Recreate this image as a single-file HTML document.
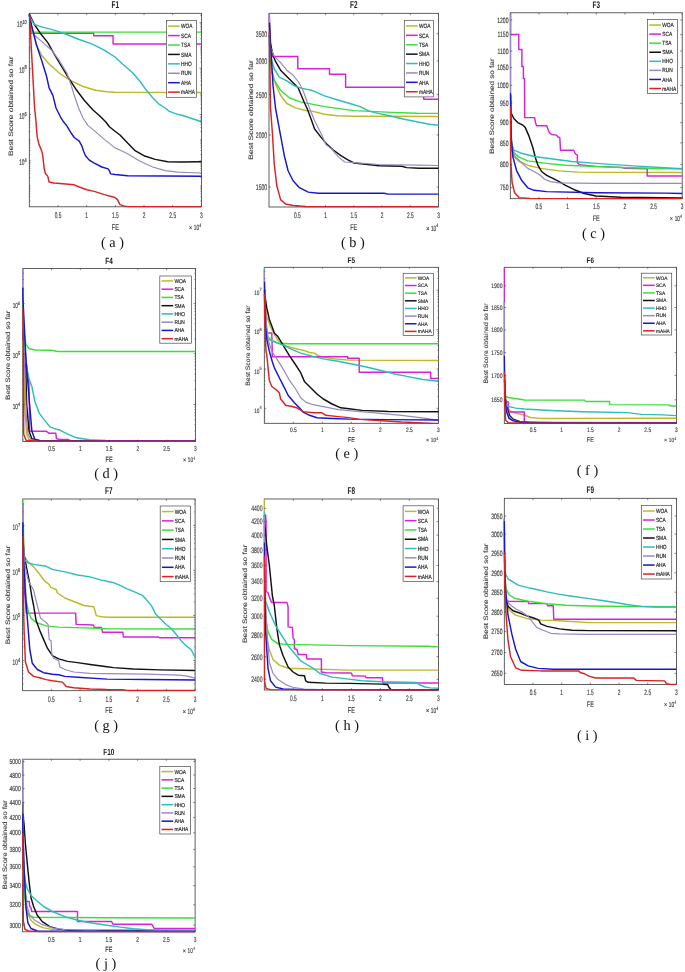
<!DOCTYPE html>
<html><head><meta charset="utf-8"><style>
html,body{margin:0;padding:0;background:#fff;}
svg{display:block;filter:blur(0.3px);}
</style></head><body>
<svg width="685" height="972" viewBox="0 0 685 972" text-rendering="geometricPrecision">
<rect width="685" height="972" fill="#fff"/>
<clipPath id="cF1"><rect x="28.40" y="12.40" width="173.90" height="195.30"/></clipPath>
<rect x="29.30" y="13.30" width="172.10" height="193.50" fill="none" stroke="#3a3a3a" stroke-width="0.8"/>
<g clip-path="url(#cF1)" fill="none" stroke-width="1.45" stroke-linejoin="round" stroke-linecap="butt">
<polyline points="29.3,14.0 31.0,25.0 34.0,35.1 36.5,45.1 41.6,55.2 49.1,64.0 60.4,74.0 70.4,80.3 83.0,86.5 95.5,90.3 106.8,91.8 115.0,92.3 201.4,92.4" stroke="#BDB82C"/>
<polyline points="29.3,14.0 30.3,25.0 30.9,33.2 93.7,33.2 93.7,35.7 113.1,35.7 113.1,43.9 201.4,43.9" stroke="#D822D8"/>
<polyline points="29.3,14.0 30.5,25.0 31.5,32.1 201.4,32.1" stroke="#38E038"/>
<polyline points="29.3,14.0 34.0,23.8 40.3,33.2 47.8,42.6 54.1,53.9 61.6,66.5 69.2,79.0 76.7,90.3 84.2,100.3 93.0,110.0 99.3,115.5 105.6,121.8 109.4,126.8 115.0,131.2 120.0,135.0 127.6,143.1 135.1,150.7 143.9,155.7 155.2,159.4 167.7,161.7 180.3,162.0 201.4,161.8" stroke="#111111"/>
<polyline points="29.3,16.0 34.0,24.4 41.6,26.9 54.1,30.1 66.7,34.5 79.2,39.5 91.8,43.9 104.3,50.1 115.0,57.0 122.5,64.0 132.6,72.7 140.1,81.5 146.4,90.3 152.7,97.8 158.9,104.1 165.2,108.0 169.0,111.1 175.3,113.6 182.8,115.5 190.3,118.0 201.4,121.8" stroke="#2DBDBD"/>
<polyline points="29.3,14.0 32.8,33.8 41.6,41.4 51.6,50.2 59.1,60.2 66.7,72.7 70.4,82.8 74.2,95.3 78.6,108.0 83.0,118.0 88.0,125.6 94.3,130.6 104.3,139.4 115.0,147.9 121.3,150.7 127.6,153.8 140.1,161.3 152.7,167.0 165.2,170.7 177.8,172.2 201.4,173.0" stroke="#9A88C4" stroke-width="1.2"/>
<polyline points="29.3,14.0 29.6,17.5 32.8,30.1 36.5,45.1 41.6,60.2 46.6,76.5 49.1,87.8 52.9,95.3 56.0,108.0 60.4,116.8 63.5,121.8 66.7,125.6 70.4,131.8 74.2,137.5 79.2,141.2 81.7,145.6 83.6,151.3 85.5,155.7 89.3,160.1 94.3,163.2 101.8,167.0 108.1,168.9 109.4,170.7 110.6,173.9 115.0,174.5 127.6,175.8 201.4,176.2" stroke="#1616D0"/>
<polyline points="29.5,15.0 34.6,108.0 35.9,120.5 37.2,136.9 39.0,144.4 41.6,150.7 42.8,155.7 44.1,168.2 45.3,173.2 47.8,176.4 49.1,182.0 54.1,183.0 62.9,183.7 74.2,184.8 79.2,187.0 86.8,189.8 94.3,191.4 104.3,194.6 115.0,197.5 117.5,199.6 120.0,204.6 123.8,205.9 128.0,206.6 201.4,206.7" stroke="#DC2222"/>
</g>
<line x1="57.98" y1="206.80" x2="57.98" y2="204.90" stroke="#3a3a3a" stroke-width="0.6"/>
<line x1="57.98" y1="13.30" x2="57.98" y2="15.20" stroke="#3a3a3a" stroke-width="0.6"/>
<text transform="translate(57.98,217.80) scale(0.595,1.000)" font-family="Liberation Sans" font-size="8.10" text-anchor="middle" fill="#3c3c3c" font-weight="normal" stroke="#3c3c3c" stroke-width="0.18">0.5</text>
<line x1="86.67" y1="206.80" x2="86.67" y2="204.90" stroke="#3a3a3a" stroke-width="0.6"/>
<line x1="86.67" y1="13.30" x2="86.67" y2="15.20" stroke="#3a3a3a" stroke-width="0.6"/>
<text transform="translate(86.67,217.80) scale(0.595,1.000)" font-family="Liberation Sans" font-size="8.10" text-anchor="middle" fill="#3c3c3c" font-weight="normal" stroke="#3c3c3c" stroke-width="0.18">1</text>
<line x1="115.35" y1="206.80" x2="115.35" y2="204.90" stroke="#3a3a3a" stroke-width="0.6"/>
<line x1="115.35" y1="13.30" x2="115.35" y2="15.20" stroke="#3a3a3a" stroke-width="0.6"/>
<text transform="translate(115.35,217.80) scale(0.595,1.000)" font-family="Liberation Sans" font-size="8.10" text-anchor="middle" fill="#3c3c3c" font-weight="normal" stroke="#3c3c3c" stroke-width="0.18">1.5</text>
<line x1="144.03" y1="206.80" x2="144.03" y2="204.90" stroke="#3a3a3a" stroke-width="0.6"/>
<line x1="144.03" y1="13.30" x2="144.03" y2="15.20" stroke="#3a3a3a" stroke-width="0.6"/>
<text transform="translate(144.03,217.80) scale(0.595,1.000)" font-family="Liberation Sans" font-size="8.10" text-anchor="middle" fill="#3c3c3c" font-weight="normal" stroke="#3c3c3c" stroke-width="0.18">2</text>
<line x1="172.72" y1="206.80" x2="172.72" y2="204.90" stroke="#3a3a3a" stroke-width="0.6"/>
<line x1="172.72" y1="13.30" x2="172.72" y2="15.20" stroke="#3a3a3a" stroke-width="0.6"/>
<text transform="translate(172.72,217.80) scale(0.595,1.000)" font-family="Liberation Sans" font-size="8.10" text-anchor="middle" fill="#3c3c3c" font-weight="normal" stroke="#3c3c3c" stroke-width="0.18">2.5</text>
<line x1="201.40" y1="206.80" x2="201.40" y2="204.90" stroke="#3a3a3a" stroke-width="0.6"/>
<line x1="201.40" y1="13.30" x2="201.40" y2="15.20" stroke="#3a3a3a" stroke-width="0.6"/>
<text transform="translate(201.40,217.80) scale(0.595,1.000)" font-family="Liberation Sans" font-size="8.10" text-anchor="middle" fill="#3c3c3c" font-weight="normal" stroke="#3c3c3c" stroke-width="0.18">3</text>
<line x1="29.30" y1="22.60" x2="31.20" y2="22.60" stroke="#3a3a3a" stroke-width="0.6"/>
<line x1="201.40" y1="22.60" x2="199.50" y2="22.60" stroke="#3a3a3a" stroke-width="0.6"/>
<text transform="translate(22.34,27.10) scale(0.595,1.000)" font-family="Liberation Sans" font-size="8.10" text-anchor="end" fill="#3c3c3c" font-weight="normal" stroke="#3c3c3c" stroke-width="0.18">10</text>
<text transform="translate(22.44,23.70) scale(0.700,1.000)" font-family="Liberation Sans" font-size="5.60" text-anchor="start" fill="#3c3c3c" font-weight="normal" stroke="#3c3c3c" stroke-width="0.18">10</text>
<line x1="29.30" y1="68.30" x2="31.20" y2="68.30" stroke="#3a3a3a" stroke-width="0.6"/>
<line x1="201.40" y1="68.30" x2="199.50" y2="68.30" stroke="#3a3a3a" stroke-width="0.6"/>
<text transform="translate(24.52,72.80) scale(0.595,1.000)" font-family="Liberation Sans" font-size="8.10" text-anchor="end" fill="#3c3c3c" font-weight="normal" stroke="#3c3c3c" stroke-width="0.18">10</text>
<text transform="translate(24.62,69.40) scale(0.700,1.000)" font-family="Liberation Sans" font-size="5.60" text-anchor="start" fill="#3c3c3c" font-weight="normal" stroke="#3c3c3c" stroke-width="0.18">8</text>
<line x1="29.30" y1="114.50" x2="31.20" y2="114.50" stroke="#3a3a3a" stroke-width="0.6"/>
<line x1="201.40" y1="114.50" x2="199.50" y2="114.50" stroke="#3a3a3a" stroke-width="0.6"/>
<text transform="translate(24.52,119.00) scale(0.595,1.000)" font-family="Liberation Sans" font-size="8.10" text-anchor="end" fill="#3c3c3c" font-weight="normal" stroke="#3c3c3c" stroke-width="0.18">10</text>
<text transform="translate(24.62,115.60) scale(0.700,1.000)" font-family="Liberation Sans" font-size="5.60" text-anchor="start" fill="#3c3c3c" font-weight="normal" stroke="#3c3c3c" stroke-width="0.18">6</text>
<line x1="29.30" y1="160.90" x2="31.20" y2="160.90" stroke="#3a3a3a" stroke-width="0.6"/>
<line x1="201.40" y1="160.90" x2="199.50" y2="160.90" stroke="#3a3a3a" stroke-width="0.6"/>
<text transform="translate(24.52,165.40) scale(0.595,1.000)" font-family="Liberation Sans" font-size="8.10" text-anchor="end" fill="#3c3c3c" font-weight="normal" stroke="#3c3c3c" stroke-width="0.18">10</text>
<text transform="translate(24.62,162.00) scale(0.700,1.000)" font-family="Liberation Sans" font-size="5.60" text-anchor="start" fill="#3c3c3c" font-weight="normal" stroke="#3c3c3c" stroke-width="0.18">4</text>
<line x1="29.30" y1="200.83" x2="30.40" y2="200.83" stroke="#3a3a3a" stroke-width="0.5"/>
<line x1="201.40" y1="200.83" x2="200.30" y2="200.83" stroke="#3a3a3a" stroke-width="0.5"/>
<line x1="29.30" y1="196.75" x2="30.40" y2="196.75" stroke="#3a3a3a" stroke-width="0.5"/>
<line x1="201.40" y1="196.75" x2="200.30" y2="196.75" stroke="#3a3a3a" stroke-width="0.5"/>
<line x1="29.30" y1="193.86" x2="30.40" y2="193.86" stroke="#3a3a3a" stroke-width="0.5"/>
<line x1="201.40" y1="193.86" x2="200.30" y2="193.86" stroke="#3a3a3a" stroke-width="0.5"/>
<line x1="29.30" y1="191.62" x2="30.40" y2="191.62" stroke="#3a3a3a" stroke-width="0.5"/>
<line x1="201.40" y1="191.62" x2="200.30" y2="191.62" stroke="#3a3a3a" stroke-width="0.5"/>
<line x1="29.30" y1="189.79" x2="30.40" y2="189.79" stroke="#3a3a3a" stroke-width="0.5"/>
<line x1="201.40" y1="189.79" x2="200.30" y2="189.79" stroke="#3a3a3a" stroke-width="0.5"/>
<line x1="29.30" y1="188.24" x2="30.40" y2="188.24" stroke="#3a3a3a" stroke-width="0.5"/>
<line x1="201.40" y1="188.24" x2="200.30" y2="188.24" stroke="#3a3a3a" stroke-width="0.5"/>
<line x1="29.30" y1="186.89" x2="30.40" y2="186.89" stroke="#3a3a3a" stroke-width="0.5"/>
<line x1="201.40" y1="186.89" x2="200.30" y2="186.89" stroke="#3a3a3a" stroke-width="0.5"/>
<line x1="29.30" y1="185.71" x2="30.40" y2="185.71" stroke="#3a3a3a" stroke-width="0.5"/>
<line x1="201.40" y1="185.71" x2="200.30" y2="185.71" stroke="#3a3a3a" stroke-width="0.5"/>
<line x1="29.30" y1="177.68" x2="30.40" y2="177.68" stroke="#3a3a3a" stroke-width="0.5"/>
<line x1="201.40" y1="177.68" x2="200.30" y2="177.68" stroke="#3a3a3a" stroke-width="0.5"/>
<line x1="29.30" y1="173.60" x2="30.40" y2="173.60" stroke="#3a3a3a" stroke-width="0.5"/>
<line x1="201.40" y1="173.60" x2="200.30" y2="173.60" stroke="#3a3a3a" stroke-width="0.5"/>
<line x1="29.30" y1="170.71" x2="30.40" y2="170.71" stroke="#3a3a3a" stroke-width="0.5"/>
<line x1="201.40" y1="170.71" x2="200.30" y2="170.71" stroke="#3a3a3a" stroke-width="0.5"/>
<line x1="29.30" y1="168.47" x2="30.40" y2="168.47" stroke="#3a3a3a" stroke-width="0.5"/>
<line x1="201.40" y1="168.47" x2="200.30" y2="168.47" stroke="#3a3a3a" stroke-width="0.5"/>
<line x1="29.30" y1="166.64" x2="30.40" y2="166.64" stroke="#3a3a3a" stroke-width="0.5"/>
<line x1="201.40" y1="166.64" x2="200.30" y2="166.64" stroke="#3a3a3a" stroke-width="0.5"/>
<line x1="29.30" y1="165.09" x2="30.40" y2="165.09" stroke="#3a3a3a" stroke-width="0.5"/>
<line x1="201.40" y1="165.09" x2="200.30" y2="165.09" stroke="#3a3a3a" stroke-width="0.5"/>
<line x1="29.30" y1="163.74" x2="30.40" y2="163.74" stroke="#3a3a3a" stroke-width="0.5"/>
<line x1="201.40" y1="163.74" x2="200.30" y2="163.74" stroke="#3a3a3a" stroke-width="0.5"/>
<line x1="29.30" y1="162.56" x2="30.40" y2="162.56" stroke="#3a3a3a" stroke-width="0.5"/>
<line x1="201.40" y1="162.56" x2="200.30" y2="162.56" stroke="#3a3a3a" stroke-width="0.5"/>
<line x1="29.30" y1="154.53" x2="30.40" y2="154.53" stroke="#3a3a3a" stroke-width="0.5"/>
<line x1="201.40" y1="154.53" x2="200.30" y2="154.53" stroke="#3a3a3a" stroke-width="0.5"/>
<line x1="29.30" y1="150.45" x2="30.40" y2="150.45" stroke="#3a3a3a" stroke-width="0.5"/>
<line x1="201.40" y1="150.45" x2="200.30" y2="150.45" stroke="#3a3a3a" stroke-width="0.5"/>
<line x1="29.30" y1="147.56" x2="30.40" y2="147.56" stroke="#3a3a3a" stroke-width="0.5"/>
<line x1="201.40" y1="147.56" x2="200.30" y2="147.56" stroke="#3a3a3a" stroke-width="0.5"/>
<line x1="29.30" y1="145.32" x2="30.40" y2="145.32" stroke="#3a3a3a" stroke-width="0.5"/>
<line x1="201.40" y1="145.32" x2="200.30" y2="145.32" stroke="#3a3a3a" stroke-width="0.5"/>
<line x1="29.30" y1="143.49" x2="30.40" y2="143.49" stroke="#3a3a3a" stroke-width="0.5"/>
<line x1="201.40" y1="143.49" x2="200.30" y2="143.49" stroke="#3a3a3a" stroke-width="0.5"/>
<line x1="29.30" y1="141.94" x2="30.40" y2="141.94" stroke="#3a3a3a" stroke-width="0.5"/>
<line x1="201.40" y1="141.94" x2="200.30" y2="141.94" stroke="#3a3a3a" stroke-width="0.5"/>
<line x1="29.30" y1="140.59" x2="30.40" y2="140.59" stroke="#3a3a3a" stroke-width="0.5"/>
<line x1="201.40" y1="140.59" x2="200.30" y2="140.59" stroke="#3a3a3a" stroke-width="0.5"/>
<line x1="29.30" y1="139.41" x2="30.40" y2="139.41" stroke="#3a3a3a" stroke-width="0.5"/>
<line x1="201.40" y1="139.41" x2="200.30" y2="139.41" stroke="#3a3a3a" stroke-width="0.5"/>
<line x1="29.30" y1="131.38" x2="30.40" y2="131.38" stroke="#3a3a3a" stroke-width="0.5"/>
<line x1="201.40" y1="131.38" x2="200.30" y2="131.38" stroke="#3a3a3a" stroke-width="0.5"/>
<line x1="29.30" y1="127.30" x2="30.40" y2="127.30" stroke="#3a3a3a" stroke-width="0.5"/>
<line x1="201.40" y1="127.30" x2="200.30" y2="127.30" stroke="#3a3a3a" stroke-width="0.5"/>
<line x1="29.30" y1="124.41" x2="30.40" y2="124.41" stroke="#3a3a3a" stroke-width="0.5"/>
<line x1="201.40" y1="124.41" x2="200.30" y2="124.41" stroke="#3a3a3a" stroke-width="0.5"/>
<line x1="29.30" y1="122.17" x2="30.40" y2="122.17" stroke="#3a3a3a" stroke-width="0.5"/>
<line x1="201.40" y1="122.17" x2="200.30" y2="122.17" stroke="#3a3a3a" stroke-width="0.5"/>
<line x1="29.30" y1="120.34" x2="30.40" y2="120.34" stroke="#3a3a3a" stroke-width="0.5"/>
<line x1="201.40" y1="120.34" x2="200.30" y2="120.34" stroke="#3a3a3a" stroke-width="0.5"/>
<line x1="29.30" y1="118.79" x2="30.40" y2="118.79" stroke="#3a3a3a" stroke-width="0.5"/>
<line x1="201.40" y1="118.79" x2="200.30" y2="118.79" stroke="#3a3a3a" stroke-width="0.5"/>
<line x1="29.30" y1="117.44" x2="30.40" y2="117.44" stroke="#3a3a3a" stroke-width="0.5"/>
<line x1="201.40" y1="117.44" x2="200.30" y2="117.44" stroke="#3a3a3a" stroke-width="0.5"/>
<line x1="29.30" y1="116.26" x2="30.40" y2="116.26" stroke="#3a3a3a" stroke-width="0.5"/>
<line x1="201.40" y1="116.26" x2="200.30" y2="116.26" stroke="#3a3a3a" stroke-width="0.5"/>
<line x1="29.30" y1="108.23" x2="30.40" y2="108.23" stroke="#3a3a3a" stroke-width="0.5"/>
<line x1="201.40" y1="108.23" x2="200.30" y2="108.23" stroke="#3a3a3a" stroke-width="0.5"/>
<line x1="29.30" y1="104.15" x2="30.40" y2="104.15" stroke="#3a3a3a" stroke-width="0.5"/>
<line x1="201.40" y1="104.15" x2="200.30" y2="104.15" stroke="#3a3a3a" stroke-width="0.5"/>
<line x1="29.30" y1="101.26" x2="30.40" y2="101.26" stroke="#3a3a3a" stroke-width="0.5"/>
<line x1="201.40" y1="101.26" x2="200.30" y2="101.26" stroke="#3a3a3a" stroke-width="0.5"/>
<line x1="29.30" y1="99.02" x2="30.40" y2="99.02" stroke="#3a3a3a" stroke-width="0.5"/>
<line x1="201.40" y1="99.02" x2="200.30" y2="99.02" stroke="#3a3a3a" stroke-width="0.5"/>
<line x1="29.30" y1="97.19" x2="30.40" y2="97.19" stroke="#3a3a3a" stroke-width="0.5"/>
<line x1="201.40" y1="97.19" x2="200.30" y2="97.19" stroke="#3a3a3a" stroke-width="0.5"/>
<line x1="29.30" y1="95.64" x2="30.40" y2="95.64" stroke="#3a3a3a" stroke-width="0.5"/>
<line x1="201.40" y1="95.64" x2="200.30" y2="95.64" stroke="#3a3a3a" stroke-width="0.5"/>
<line x1="29.30" y1="94.29" x2="30.40" y2="94.29" stroke="#3a3a3a" stroke-width="0.5"/>
<line x1="201.40" y1="94.29" x2="200.30" y2="94.29" stroke="#3a3a3a" stroke-width="0.5"/>
<line x1="29.30" y1="93.11" x2="30.40" y2="93.11" stroke="#3a3a3a" stroke-width="0.5"/>
<line x1="201.40" y1="93.11" x2="200.30" y2="93.11" stroke="#3a3a3a" stroke-width="0.5"/>
<line x1="29.30" y1="85.08" x2="30.40" y2="85.08" stroke="#3a3a3a" stroke-width="0.5"/>
<line x1="201.40" y1="85.08" x2="200.30" y2="85.08" stroke="#3a3a3a" stroke-width="0.5"/>
<line x1="29.30" y1="81.00" x2="30.40" y2="81.00" stroke="#3a3a3a" stroke-width="0.5"/>
<line x1="201.40" y1="81.00" x2="200.30" y2="81.00" stroke="#3a3a3a" stroke-width="0.5"/>
<line x1="29.30" y1="78.11" x2="30.40" y2="78.11" stroke="#3a3a3a" stroke-width="0.5"/>
<line x1="201.40" y1="78.11" x2="200.30" y2="78.11" stroke="#3a3a3a" stroke-width="0.5"/>
<line x1="29.30" y1="75.87" x2="30.40" y2="75.87" stroke="#3a3a3a" stroke-width="0.5"/>
<line x1="201.40" y1="75.87" x2="200.30" y2="75.87" stroke="#3a3a3a" stroke-width="0.5"/>
<line x1="29.30" y1="74.04" x2="30.40" y2="74.04" stroke="#3a3a3a" stroke-width="0.5"/>
<line x1="201.40" y1="74.04" x2="200.30" y2="74.04" stroke="#3a3a3a" stroke-width="0.5"/>
<line x1="29.30" y1="72.49" x2="30.40" y2="72.49" stroke="#3a3a3a" stroke-width="0.5"/>
<line x1="201.40" y1="72.49" x2="200.30" y2="72.49" stroke="#3a3a3a" stroke-width="0.5"/>
<line x1="29.30" y1="71.14" x2="30.40" y2="71.14" stroke="#3a3a3a" stroke-width="0.5"/>
<line x1="201.40" y1="71.14" x2="200.30" y2="71.14" stroke="#3a3a3a" stroke-width="0.5"/>
<line x1="29.30" y1="69.96" x2="30.40" y2="69.96" stroke="#3a3a3a" stroke-width="0.5"/>
<line x1="201.40" y1="69.96" x2="200.30" y2="69.96" stroke="#3a3a3a" stroke-width="0.5"/>
<line x1="29.30" y1="61.93" x2="30.40" y2="61.93" stroke="#3a3a3a" stroke-width="0.5"/>
<line x1="201.40" y1="61.93" x2="200.30" y2="61.93" stroke="#3a3a3a" stroke-width="0.5"/>
<line x1="29.30" y1="57.85" x2="30.40" y2="57.85" stroke="#3a3a3a" stroke-width="0.5"/>
<line x1="201.40" y1="57.85" x2="200.30" y2="57.85" stroke="#3a3a3a" stroke-width="0.5"/>
<line x1="29.30" y1="54.96" x2="30.40" y2="54.96" stroke="#3a3a3a" stroke-width="0.5"/>
<line x1="201.40" y1="54.96" x2="200.30" y2="54.96" stroke="#3a3a3a" stroke-width="0.5"/>
<line x1="29.30" y1="52.72" x2="30.40" y2="52.72" stroke="#3a3a3a" stroke-width="0.5"/>
<line x1="201.40" y1="52.72" x2="200.30" y2="52.72" stroke="#3a3a3a" stroke-width="0.5"/>
<line x1="29.30" y1="50.89" x2="30.40" y2="50.89" stroke="#3a3a3a" stroke-width="0.5"/>
<line x1="201.40" y1="50.89" x2="200.30" y2="50.89" stroke="#3a3a3a" stroke-width="0.5"/>
<line x1="29.30" y1="49.34" x2="30.40" y2="49.34" stroke="#3a3a3a" stroke-width="0.5"/>
<line x1="201.40" y1="49.34" x2="200.30" y2="49.34" stroke="#3a3a3a" stroke-width="0.5"/>
<line x1="29.30" y1="47.99" x2="30.40" y2="47.99" stroke="#3a3a3a" stroke-width="0.5"/>
<line x1="201.40" y1="47.99" x2="200.30" y2="47.99" stroke="#3a3a3a" stroke-width="0.5"/>
<line x1="29.30" y1="46.81" x2="30.40" y2="46.81" stroke="#3a3a3a" stroke-width="0.5"/>
<line x1="201.40" y1="46.81" x2="200.30" y2="46.81" stroke="#3a3a3a" stroke-width="0.5"/>
<line x1="29.30" y1="38.78" x2="30.40" y2="38.78" stroke="#3a3a3a" stroke-width="0.5"/>
<line x1="201.40" y1="38.78" x2="200.30" y2="38.78" stroke="#3a3a3a" stroke-width="0.5"/>
<line x1="29.30" y1="34.70" x2="30.40" y2="34.70" stroke="#3a3a3a" stroke-width="0.5"/>
<line x1="201.40" y1="34.70" x2="200.30" y2="34.70" stroke="#3a3a3a" stroke-width="0.5"/>
<line x1="29.30" y1="31.81" x2="30.40" y2="31.81" stroke="#3a3a3a" stroke-width="0.5"/>
<line x1="201.40" y1="31.81" x2="200.30" y2="31.81" stroke="#3a3a3a" stroke-width="0.5"/>
<line x1="29.30" y1="29.57" x2="30.40" y2="29.57" stroke="#3a3a3a" stroke-width="0.5"/>
<line x1="201.40" y1="29.57" x2="200.30" y2="29.57" stroke="#3a3a3a" stroke-width="0.5"/>
<line x1="29.30" y1="27.74" x2="30.40" y2="27.74" stroke="#3a3a3a" stroke-width="0.5"/>
<line x1="201.40" y1="27.74" x2="200.30" y2="27.74" stroke="#3a3a3a" stroke-width="0.5"/>
<line x1="29.30" y1="26.19" x2="30.40" y2="26.19" stroke="#3a3a3a" stroke-width="0.5"/>
<line x1="201.40" y1="26.19" x2="200.30" y2="26.19" stroke="#3a3a3a" stroke-width="0.5"/>
<line x1="29.30" y1="24.84" x2="30.40" y2="24.84" stroke="#3a3a3a" stroke-width="0.5"/>
<line x1="201.40" y1="24.84" x2="200.30" y2="24.84" stroke="#3a3a3a" stroke-width="0.5"/>
<line x1="29.30" y1="23.66" x2="30.40" y2="23.66" stroke="#3a3a3a" stroke-width="0.5"/>
<line x1="201.40" y1="23.66" x2="200.30" y2="23.66" stroke="#3a3a3a" stroke-width="0.5"/>
<line x1="29.30" y1="15.63" x2="30.40" y2="15.63" stroke="#3a3a3a" stroke-width="0.5"/>
<line x1="201.40" y1="15.63" x2="200.30" y2="15.63" stroke="#3a3a3a" stroke-width="0.5"/>
<text transform="translate(115.35,8.30) scale(0.640,1.000)" font-family="Liberation Sans" font-size="10.00" text-anchor="middle" fill="#1a1a1a" font-weight="bold">F1</text>
<text transform="translate(13.40,106.20) scale(0.76,1.000) rotate(-90)" font-family="Liberation Sans" font-size="8.45" text-anchor="middle" fill="#3c3c3c" stroke="#3c3c3c" stroke-width="0.15">Best Score obtained so far</text>
<text transform="translate(115.35,229.80) scale(0.660,1.000)" font-family="Liberation Sans" font-size="8.40" text-anchor="middle" fill="#3c3c3c" font-weight="normal" stroke="#3c3c3c" stroke-width="0.18">FE</text>
<text transform="translate(199.10,230.40) scale(0.620,1.000)" font-family="Liberation Sans" font-size="7.60" text-anchor="end" fill="#3c3c3c" font-weight="normal" stroke="#3c3c3c" stroke-width="0.18">10</text>
<text transform="translate(192.20,230.40) scale(0.750,1.000)" font-family="Liberation Sans" font-size="7.20" text-anchor="end" fill="#3c3c3c" font-weight="normal" stroke="#3c3c3c" stroke-width="0.18">&#215;</text>
<text transform="translate(199.50,227.20) scale(0.550,1.000)" font-family="Liberation Sans" font-size="5.20" text-anchor="start" fill="#3c3c3c" font-weight="normal" stroke="#3c3c3c" stroke-width="0.18">4</text>
<text x="112.40" y="246.70" font-family="Liberation Serif" font-size="14.3" text-anchor="middle" fill="#111">( a )</text>
<rect x="166.40" y="20.50" width="30.20" height="76.80" fill="#fff" stroke="#4a4a4a" stroke-width="0.7"/>
<line x1="168.10" y1="26.15" x2="179.80" y2="26.15" stroke="#BDB82C" stroke-width="1.5"/>
<text transform="translate(181.00,28.35) scale(0.780,1.000)" font-family="Liberation Sans" font-size="6.20" text-anchor="start" fill="#222" font-weight="normal" stroke="#222" stroke-width="0.18">WOA</text>
<line x1="168.10" y1="35.58" x2="179.80" y2="35.58" stroke="#D822D8" stroke-width="1.5"/>
<text transform="translate(181.00,37.78) scale(0.780,1.000)" font-family="Liberation Sans" font-size="6.20" text-anchor="start" fill="#222" font-weight="normal" stroke="#222" stroke-width="0.18">SCA</text>
<line x1="168.10" y1="45.00" x2="179.80" y2="45.00" stroke="#38E038" stroke-width="1.5"/>
<text transform="translate(181.00,47.20) scale(0.780,1.000)" font-family="Liberation Sans" font-size="6.20" text-anchor="start" fill="#222" font-weight="normal" stroke="#222" stroke-width="0.18">TSA</text>
<line x1="168.10" y1="54.42" x2="179.80" y2="54.42" stroke="#111111" stroke-width="1.5"/>
<text transform="translate(181.00,56.62) scale(0.780,1.000)" font-family="Liberation Sans" font-size="6.20" text-anchor="start" fill="#222" font-weight="normal" stroke="#222" stroke-width="0.18">SMA</text>
<line x1="168.10" y1="63.85" x2="179.80" y2="63.85" stroke="#2DBDBD" stroke-width="1.5"/>
<text transform="translate(181.00,66.05) scale(0.780,1.000)" font-family="Liberation Sans" font-size="6.20" text-anchor="start" fill="#222" font-weight="normal" stroke="#222" stroke-width="0.18">HHO</text>
<line x1="168.10" y1="73.27" x2="179.80" y2="73.27" stroke="#9A88C4" stroke-width="1.5"/>
<text transform="translate(181.00,75.47) scale(0.780,1.000)" font-family="Liberation Sans" font-size="6.20" text-anchor="start" fill="#222" font-weight="normal" stroke="#222" stroke-width="0.18">RUN</text>
<line x1="168.10" y1="82.69" x2="179.80" y2="82.69" stroke="#1616D0" stroke-width="1.5"/>
<text transform="translate(181.00,84.89) scale(0.780,1.000)" font-family="Liberation Sans" font-size="6.20" text-anchor="start" fill="#222" font-weight="normal" stroke="#222" stroke-width="0.18">AHA</text>
<line x1="168.10" y1="92.12" x2="179.80" y2="92.12" stroke="#DC2222" stroke-width="1.5"/>
<text transform="translate(181.00,94.32) scale(0.780,1.000)" font-family="Liberation Sans" font-size="6.20" text-anchor="start" fill="#222" font-weight="normal" stroke="#222" stroke-width="0.18">mAHA</text>
<clipPath id="cF2"><rect x="268.10" y="12.40" width="171.30" height="195.50"/></clipPath>
<rect x="269.00" y="13.30" width="169.50" height="193.70" fill="none" stroke="#3a3a3a" stroke-width="0.8"/>
<g clip-path="url(#cF2)" fill="none" stroke-width="1.45" stroke-linejoin="round" stroke-linecap="butt">
<polyline points="269.3,40.0 270.5,60.0 271.8,72.7 275.5,84.0 280.6,95.3 286.8,103.5 295.6,107.9 305.7,110.5 311.9,111.1 324.5,114.3 337.0,115.8 354.0,116.2 438.5,116.5" stroke="#BDB82C"/>
<polyline points="269.3,14.0 270.0,40.0 271.1,56.4 297.8,56.4 297.8,68.7 329.5,68.7 329.5,74.2 345.6,74.2 345.6,87.2 423.7,87.2 423.7,99.3 438.5,99.3" stroke="#D822D8"/>
<polyline points="269.3,40.0 270.2,55.0 271.1,66.5 274.3,80.3 280.6,90.3 289.3,97.8 299.4,101.6 311.9,104.1 324.5,106.6 354.0,110.6 391.7,112.4 416.8,113.3 438.5,113.4" stroke="#38E038"/>
<polyline points="269.3,35.0 269.9,41.4 273.0,55.2 275.5,61.4 280.6,70.2 286.8,76.5 293.1,82.8 298.1,87.8 301.3,95.3 304.4,102.8 306.9,108.0 310.7,118.0 314.5,128.7 320.7,136.9 327.0,144.4 333.3,150.0 340.8,155.7 348.4,160.1 354.0,163.0 379.1,165.7 401.7,166.3 406.7,167.6 419.3,168.2 438.5,168.2" stroke="#111111"/>
<polyline points="269.3,40.0 270.5,56.4 274.3,69.0 279.3,77.1 286.8,80.9 294.4,85.9 301.9,88.4 311.9,90.3 324.5,95.9 337.0,99.7 354.0,104.7 360.3,106.6 369.1,111.1 379.1,113.6 391.7,116.2 404.2,119.3 416.8,121.8 429.3,124.3 438.5,125.3" stroke="#2DBDBD"/>
<polyline points="269.3,13.8 270.5,47.6 274.3,56.4 280.6,62.7 286.8,70.2 293.1,75.2 298.1,81.5 301.9,87.8 305.7,97.8 309.4,108.0 314.5,120.5 322.0,135.6 325.8,144.4 332.0,149.4 338.3,156.9 344.6,162.0 354.0,162.6 379.1,164.5 416.8,165.1 438.5,165.5" stroke="#9A88C4" stroke-width="1.2"/>
<polyline points="269.4,22.5 273.0,85.3 275.5,108.0 280.6,135.6 284.3,155.7 288.1,170.7 293.1,180.8 299.4,187.7 308.2,192.1 318.2,193.2 384.1,193.3 387.9,194.1 438.5,194.1" stroke="#1616D0"/>
<polyline points="269.4,32.0 270.5,108.0 272.4,133.1 274.3,164.5 276.8,185.8 280.6,199.6 285.6,204.0 293.1,205.5 305.7,206.5 438.5,206.6" stroke="#DC2222"/>
<polyline points="269.3,13.8 269.4,22.5" stroke="#9A88C4"/>
</g>
<line x1="297.25" y1="207.00" x2="297.25" y2="205.10" stroke="#3a3a3a" stroke-width="0.6"/>
<line x1="297.25" y1="13.30" x2="297.25" y2="15.20" stroke="#3a3a3a" stroke-width="0.6"/>
<text transform="translate(297.25,218.01) scale(0.595,1.001)" font-family="Liberation Sans" font-size="8.10" text-anchor="middle" fill="#3c3c3c" font-weight="normal" stroke="#3c3c3c" stroke-width="0.18">0.5</text>
<line x1="325.50" y1="207.00" x2="325.50" y2="205.10" stroke="#3a3a3a" stroke-width="0.6"/>
<line x1="325.50" y1="13.30" x2="325.50" y2="15.20" stroke="#3a3a3a" stroke-width="0.6"/>
<text transform="translate(325.50,218.01) scale(0.595,1.001)" font-family="Liberation Sans" font-size="8.10" text-anchor="middle" fill="#3c3c3c" font-weight="normal" stroke="#3c3c3c" stroke-width="0.18">1</text>
<line x1="353.75" y1="207.00" x2="353.75" y2="205.10" stroke="#3a3a3a" stroke-width="0.6"/>
<line x1="353.75" y1="13.30" x2="353.75" y2="15.20" stroke="#3a3a3a" stroke-width="0.6"/>
<text transform="translate(353.75,218.01) scale(0.595,1.001)" font-family="Liberation Sans" font-size="8.10" text-anchor="middle" fill="#3c3c3c" font-weight="normal" stroke="#3c3c3c" stroke-width="0.18">1.5</text>
<line x1="382.00" y1="207.00" x2="382.00" y2="205.10" stroke="#3a3a3a" stroke-width="0.6"/>
<line x1="382.00" y1="13.30" x2="382.00" y2="15.20" stroke="#3a3a3a" stroke-width="0.6"/>
<text transform="translate(382.00,218.01) scale(0.595,1.001)" font-family="Liberation Sans" font-size="8.10" text-anchor="middle" fill="#3c3c3c" font-weight="normal" stroke="#3c3c3c" stroke-width="0.18">2</text>
<line x1="410.25" y1="207.00" x2="410.25" y2="205.10" stroke="#3a3a3a" stroke-width="0.6"/>
<line x1="410.25" y1="13.30" x2="410.25" y2="15.20" stroke="#3a3a3a" stroke-width="0.6"/>
<text transform="translate(410.25,218.01) scale(0.595,1.001)" font-family="Liberation Sans" font-size="8.10" text-anchor="middle" fill="#3c3c3c" font-weight="normal" stroke="#3c3c3c" stroke-width="0.18">2.5</text>
<line x1="438.50" y1="207.00" x2="438.50" y2="205.10" stroke="#3a3a3a" stroke-width="0.6"/>
<line x1="438.50" y1="13.30" x2="438.50" y2="15.20" stroke="#3a3a3a" stroke-width="0.6"/>
<text transform="translate(438.50,218.01) scale(0.595,1.001)" font-family="Liberation Sans" font-size="8.10" text-anchor="middle" fill="#3c3c3c" font-weight="normal" stroke="#3c3c3c" stroke-width="0.18">3</text>
<line x1="269.00" y1="33.70" x2="270.90" y2="33.70" stroke="#3a3a3a" stroke-width="0.6"/>
<line x1="438.50" y1="33.70" x2="436.60" y2="33.70" stroke="#3a3a3a" stroke-width="0.6"/>
<text transform="translate(267.20,36.60) scale(0.630,1.001)" font-family="Liberation Sans" font-size="8.10" text-anchor="end" fill="#3c3c3c" font-weight="normal" stroke="#3c3c3c" stroke-width="0.18">3500</text>
<line x1="269.00" y1="61.00" x2="270.90" y2="61.00" stroke="#3a3a3a" stroke-width="0.6"/>
<line x1="438.50" y1="61.00" x2="436.60" y2="61.00" stroke="#3a3a3a" stroke-width="0.6"/>
<text transform="translate(267.20,63.90) scale(0.630,1.001)" font-family="Liberation Sans" font-size="8.10" text-anchor="end" fill="#3c3c3c" font-weight="normal" stroke="#3c3c3c" stroke-width="0.18">3000</text>
<line x1="269.00" y1="94.60" x2="270.90" y2="94.60" stroke="#3a3a3a" stroke-width="0.6"/>
<line x1="438.50" y1="94.60" x2="436.60" y2="94.60" stroke="#3a3a3a" stroke-width="0.6"/>
<text transform="translate(267.20,97.50) scale(0.630,1.001)" font-family="Liberation Sans" font-size="8.10" text-anchor="end" fill="#3c3c3c" font-weight="normal" stroke="#3c3c3c" stroke-width="0.18">2500</text>
<line x1="269.00" y1="134.90" x2="270.90" y2="134.90" stroke="#3a3a3a" stroke-width="0.6"/>
<line x1="438.50" y1="134.90" x2="436.60" y2="134.90" stroke="#3a3a3a" stroke-width="0.6"/>
<text transform="translate(267.20,137.80) scale(0.630,1.001)" font-family="Liberation Sans" font-size="8.10" text-anchor="end" fill="#3c3c3c" font-weight="normal" stroke="#3c3c3c" stroke-width="0.18">2000</text>
<line x1="269.00" y1="187.00" x2="270.90" y2="187.00" stroke="#3a3a3a" stroke-width="0.6"/>
<line x1="438.50" y1="187.00" x2="436.60" y2="187.00" stroke="#3a3a3a" stroke-width="0.6"/>
<text transform="translate(267.20,189.90) scale(0.630,1.001)" font-family="Liberation Sans" font-size="8.10" text-anchor="end" fill="#3c3c3c" font-weight="normal" stroke="#3c3c3c" stroke-width="0.18">1500</text>
<text transform="translate(353.75,8.29) scale(0.640,1.001)" font-family="Liberation Sans" font-size="10.00" text-anchor="middle" fill="#1a1a1a" font-weight="bold">F2</text>
<text transform="translate(253.40,109.90) scale(0.76,1.001) rotate(-90)" font-family="Liberation Sans" font-size="8.45" text-anchor="middle" fill="#3c3c3c" stroke="#3c3c3c" stroke-width="0.15">Best Score obtained so far</text>
<text transform="translate(353.75,230.02) scale(0.660,1.001)" font-family="Liberation Sans" font-size="8.40" text-anchor="middle" fill="#3c3c3c" font-weight="normal" stroke="#3c3c3c" stroke-width="0.18">FE</text>
<text transform="translate(436.20,230.62) scale(0.620,1.001)" font-family="Liberation Sans" font-size="7.60" text-anchor="end" fill="#3c3c3c" font-weight="normal" stroke="#3c3c3c" stroke-width="0.18">10</text>
<text transform="translate(429.30,230.62) scale(0.750,1.001)" font-family="Liberation Sans" font-size="7.20" text-anchor="end" fill="#3c3c3c" font-weight="normal" stroke="#3c3c3c" stroke-width="0.18">&#215;</text>
<text transform="translate(436.60,227.42) scale(0.550,1.001)" font-family="Liberation Sans" font-size="5.20" text-anchor="start" fill="#3c3c3c" font-weight="normal" stroke="#3c3c3c" stroke-width="0.18">4</text>
<text x="352.90" y="246.70" font-family="Liberation Serif" font-size="14.3" text-anchor="middle" fill="#111">( b )</text>
<rect x="404.30" y="20.30" width="29.10" height="76.60" fill="#fff" stroke="#4a4a4a" stroke-width="0.7"/>
<line x1="406.00" y1="25.94" x2="417.70" y2="25.94" stroke="#BDB82C" stroke-width="1.5"/>
<text transform="translate(418.90,28.14) scale(0.780,1.001)" font-family="Liberation Sans" font-size="6.20" text-anchor="start" fill="#222" font-weight="normal" stroke="#222" stroke-width="0.18">WOA</text>
<line x1="406.00" y1="35.34" x2="417.70" y2="35.34" stroke="#D822D8" stroke-width="1.5"/>
<text transform="translate(418.90,37.54) scale(0.780,1.001)" font-family="Liberation Sans" font-size="6.20" text-anchor="start" fill="#222" font-weight="normal" stroke="#222" stroke-width="0.18">SCA</text>
<line x1="406.00" y1="44.74" x2="417.70" y2="44.74" stroke="#38E038" stroke-width="1.5"/>
<text transform="translate(418.90,46.94) scale(0.780,1.001)" font-family="Liberation Sans" font-size="6.20" text-anchor="start" fill="#222" font-weight="normal" stroke="#222" stroke-width="0.18">TSA</text>
<line x1="406.00" y1="54.14" x2="417.70" y2="54.14" stroke="#111111" stroke-width="1.5"/>
<text transform="translate(418.90,56.34) scale(0.780,1.001)" font-family="Liberation Sans" font-size="6.20" text-anchor="start" fill="#222" font-weight="normal" stroke="#222" stroke-width="0.18">SMA</text>
<line x1="406.00" y1="63.53" x2="417.70" y2="63.53" stroke="#2DBDBD" stroke-width="1.5"/>
<text transform="translate(418.90,65.74) scale(0.780,1.001)" font-family="Liberation Sans" font-size="6.20" text-anchor="start" fill="#222" font-weight="normal" stroke="#222" stroke-width="0.18">HHO</text>
<line x1="406.00" y1="72.93" x2="417.70" y2="72.93" stroke="#9A88C4" stroke-width="1.5"/>
<text transform="translate(418.90,75.14) scale(0.780,1.001)" font-family="Liberation Sans" font-size="6.20" text-anchor="start" fill="#222" font-weight="normal" stroke="#222" stroke-width="0.18">RUN</text>
<line x1="406.00" y1="82.33" x2="417.70" y2="82.33" stroke="#1616D0" stroke-width="1.5"/>
<text transform="translate(418.90,84.53) scale(0.780,1.001)" font-family="Liberation Sans" font-size="6.20" text-anchor="start" fill="#222" font-weight="normal" stroke="#222" stroke-width="0.18">AHA</text>
<line x1="406.00" y1="91.73" x2="417.70" y2="91.73" stroke="#DC2222" stroke-width="1.5"/>
<text transform="translate(418.90,93.93) scale(0.780,1.001)" font-family="Liberation Sans" font-size="6.20" text-anchor="start" fill="#222" font-weight="normal" stroke="#222" stroke-width="0.18">mAHA</text>
<clipPath id="cF3"><rect x="509.40" y="11.90" width="173.70" height="187.70"/></clipPath>
<rect x="510.30" y="12.80" width="171.90" height="185.90" fill="none" stroke="#3a3a3a" stroke-width="0.8"/>
<g clip-path="url(#cF3)" fill="none" stroke-width="1.45" stroke-linejoin="round" stroke-linecap="butt">
<polyline points="510.6,120.0 511.5,147.7 514.0,156.5 519.0,161.5 527.8,165.2 540.4,168.4 559.2,170.9 578.0,172.1 595.0,172.4 682.2,172.4" stroke="#BDB82C"/>
<polyline points="510.5,12.8 510.5,34.5 518.8,34.5 518.8,49.5 521.9,49.5 521.9,66.5 523.4,66.5 523.4,78.4 524.5,78.4 524.7,117.6 534.7,117.6 535.4,122.6 536.6,125.7 546.7,125.7 547.9,128.9 549.2,132.6 551.7,134.5 556.7,135.1 558.0,137.0 559.8,137.6 560.5,150.2 573.7,150.2 575.5,154.0 577.4,155.2 577.4,162.7 579.3,164.6 596.0,166.4 621.0,167.4 625.0,168.3 647.2,168.8 647.2,175.9 682.2,175.9" stroke="#D822D8"/>
<polyline points="510.6,120.0 511.5,141.4 514.0,152.7 519.0,157.1 527.8,160.9 546.7,163.4 565.5,165.2 596.0,166.5 621.1,167.5 682.2,169.0" stroke="#38E038"/>
<polyline points="510.6,95.0 510.9,112.5 514.0,118.8 517.8,122.6 522.8,125.1 525.3,127.6 529.1,136.4 532.9,147.7 535.4,157.7 537.9,165.2 541.6,171.5 546.7,175.3 552.9,178.4 559.2,181.6 565.5,185.3 574.3,189.7 584.3,193.5 596.0,196.0 621.1,197.2 682.2,197.9" stroke="#111111"/>
<polyline points="510.6,120.0 510.9,143.9 514.0,150.2 521.6,153.3 534.1,156.5 552.9,159.0 571.8,161.5 596.0,163.4 633.7,165.9 682.2,168.8" stroke="#2DBDBD"/>
<polyline points="510.5,14.0 510.6,100.0 511.5,150.2 515.3,156.5 521.6,162.7 527.8,168.4 534.1,171.5 540.4,175.3 544.2,179.0 550.4,181.6 559.2,182.8 595.0,183.4 682.2,183.4" stroke="#9A88C4" stroke-width="1.2"/>
<polyline points="510.5,92.8 511.3,137.6 512.8,156.5 516.5,170.3 521.6,180.3 527.8,187.8 534.1,190.3 546.7,191.6 596.0,192.8 665.0,193.1 682.2,193.5" stroke="#1616D0"/>
<polyline points="510.5,106.6 510.9,162.7 512.1,182.8 514.6,192.8 519.0,197.6 530.0,198.4 682.2,198.7" stroke="#DC2222"/>
<polyline points="510.5,14.0 510.5,92.8" stroke="#9A88C4"/>
</g>
<line x1="538.95" y1="198.70" x2="538.95" y2="196.87" stroke="#3a3a3a" stroke-width="0.6"/>
<line x1="538.95" y1="12.80" x2="538.95" y2="14.63" stroke="#3a3a3a" stroke-width="0.6"/>
<text transform="translate(538.95,209.27) scale(0.595,0.961)" font-family="Liberation Sans" font-size="8.10" text-anchor="middle" fill="#3c3c3c" font-weight="normal" stroke="#3c3c3c" stroke-width="0.18">0.5</text>
<line x1="567.60" y1="198.70" x2="567.60" y2="196.87" stroke="#3a3a3a" stroke-width="0.6"/>
<line x1="567.60" y1="12.80" x2="567.60" y2="14.63" stroke="#3a3a3a" stroke-width="0.6"/>
<text transform="translate(567.60,209.27) scale(0.595,0.961)" font-family="Liberation Sans" font-size="8.10" text-anchor="middle" fill="#3c3c3c" font-weight="normal" stroke="#3c3c3c" stroke-width="0.18">1</text>
<line x1="596.25" y1="198.70" x2="596.25" y2="196.87" stroke="#3a3a3a" stroke-width="0.6"/>
<line x1="596.25" y1="12.80" x2="596.25" y2="14.63" stroke="#3a3a3a" stroke-width="0.6"/>
<text transform="translate(596.25,209.27) scale(0.595,0.961)" font-family="Liberation Sans" font-size="8.10" text-anchor="middle" fill="#3c3c3c" font-weight="normal" stroke="#3c3c3c" stroke-width="0.18">1.5</text>
<line x1="624.90" y1="198.70" x2="624.90" y2="196.87" stroke="#3a3a3a" stroke-width="0.6"/>
<line x1="624.90" y1="12.80" x2="624.90" y2="14.63" stroke="#3a3a3a" stroke-width="0.6"/>
<text transform="translate(624.90,209.27) scale(0.595,0.961)" font-family="Liberation Sans" font-size="8.10" text-anchor="middle" fill="#3c3c3c" font-weight="normal" stroke="#3c3c3c" stroke-width="0.18">2</text>
<line x1="653.55" y1="198.70" x2="653.55" y2="196.87" stroke="#3a3a3a" stroke-width="0.6"/>
<line x1="653.55" y1="12.80" x2="653.55" y2="14.63" stroke="#3a3a3a" stroke-width="0.6"/>
<text transform="translate(653.55,209.27) scale(0.595,0.961)" font-family="Liberation Sans" font-size="8.10" text-anchor="middle" fill="#3c3c3c" font-weight="normal" stroke="#3c3c3c" stroke-width="0.18">2.5</text>
<line x1="682.20" y1="198.70" x2="682.20" y2="196.87" stroke="#3a3a3a" stroke-width="0.6"/>
<line x1="682.20" y1="12.80" x2="682.20" y2="14.63" stroke="#3a3a3a" stroke-width="0.6"/>
<text transform="translate(682.20,209.27) scale(0.595,0.961)" font-family="Liberation Sans" font-size="8.10" text-anchor="middle" fill="#3c3c3c" font-weight="normal" stroke="#3c3c3c" stroke-width="0.18">3</text>
<line x1="510.30" y1="20.00" x2="512.20" y2="20.00" stroke="#3a3a3a" stroke-width="0.6"/>
<line x1="682.20" y1="20.00" x2="680.30" y2="20.00" stroke="#3a3a3a" stroke-width="0.6"/>
<text transform="translate(508.50,22.79) scale(0.630,0.961)" font-family="Liberation Sans" font-size="8.10" text-anchor="end" fill="#3c3c3c" font-weight="normal" stroke="#3c3c3c" stroke-width="0.18">1200</text>
<line x1="510.30" y1="34.70" x2="512.20" y2="34.70" stroke="#3a3a3a" stroke-width="0.6"/>
<line x1="682.20" y1="34.70" x2="680.30" y2="34.70" stroke="#3a3a3a" stroke-width="0.6"/>
<text transform="translate(508.50,37.49) scale(0.630,0.961)" font-family="Liberation Sans" font-size="8.10" text-anchor="end" fill="#3c3c3c" font-weight="normal" stroke="#3c3c3c" stroke-width="0.18">1150</text>
<line x1="510.30" y1="51.00" x2="512.20" y2="51.00" stroke="#3a3a3a" stroke-width="0.6"/>
<line x1="682.20" y1="51.00" x2="680.30" y2="51.00" stroke="#3a3a3a" stroke-width="0.6"/>
<text transform="translate(508.50,53.79) scale(0.630,0.961)" font-family="Liberation Sans" font-size="8.10" text-anchor="end" fill="#3c3c3c" font-weight="normal" stroke="#3c3c3c" stroke-width="0.18">1100</text>
<line x1="510.30" y1="67.60" x2="512.20" y2="67.60" stroke="#3a3a3a" stroke-width="0.6"/>
<line x1="682.20" y1="67.60" x2="680.30" y2="67.60" stroke="#3a3a3a" stroke-width="0.6"/>
<text transform="translate(508.50,70.39) scale(0.630,0.961)" font-family="Liberation Sans" font-size="8.10" text-anchor="end" fill="#3c3c3c" font-weight="normal" stroke="#3c3c3c" stroke-width="0.18">1050</text>
<line x1="510.30" y1="85.30" x2="512.20" y2="85.30" stroke="#3a3a3a" stroke-width="0.6"/>
<line x1="682.20" y1="85.30" x2="680.30" y2="85.30" stroke="#3a3a3a" stroke-width="0.6"/>
<text transform="translate(508.50,88.09) scale(0.630,0.961)" font-family="Liberation Sans" font-size="8.10" text-anchor="end" fill="#3c3c3c" font-weight="normal" stroke="#3c3c3c" stroke-width="0.18">1000</text>
<line x1="510.30" y1="103.30" x2="512.20" y2="103.30" stroke="#3a3a3a" stroke-width="0.6"/>
<line x1="682.20" y1="103.30" x2="680.30" y2="103.30" stroke="#3a3a3a" stroke-width="0.6"/>
<text transform="translate(508.50,106.09) scale(0.630,0.961)" font-family="Liberation Sans" font-size="8.10" text-anchor="end" fill="#3c3c3c" font-weight="normal" stroke="#3c3c3c" stroke-width="0.18">950</text>
<line x1="510.30" y1="122.70" x2="512.20" y2="122.70" stroke="#3a3a3a" stroke-width="0.6"/>
<line x1="682.20" y1="122.70" x2="680.30" y2="122.70" stroke="#3a3a3a" stroke-width="0.6"/>
<text transform="translate(508.50,125.49) scale(0.630,0.961)" font-family="Liberation Sans" font-size="8.10" text-anchor="end" fill="#3c3c3c" font-weight="normal" stroke="#3c3c3c" stroke-width="0.18">900</text>
<line x1="510.30" y1="142.90" x2="512.20" y2="142.90" stroke="#3a3a3a" stroke-width="0.6"/>
<line x1="682.20" y1="142.90" x2="680.30" y2="142.90" stroke="#3a3a3a" stroke-width="0.6"/>
<text transform="translate(508.50,145.69) scale(0.630,0.961)" font-family="Liberation Sans" font-size="8.10" text-anchor="end" fill="#3c3c3c" font-weight="normal" stroke="#3c3c3c" stroke-width="0.18">850</text>
<line x1="510.30" y1="164.40" x2="512.20" y2="164.40" stroke="#3a3a3a" stroke-width="0.6"/>
<line x1="682.20" y1="164.40" x2="680.30" y2="164.40" stroke="#3a3a3a" stroke-width="0.6"/>
<text transform="translate(508.50,167.19) scale(0.630,0.961)" font-family="Liberation Sans" font-size="8.10" text-anchor="end" fill="#3c3c3c" font-weight="normal" stroke="#3c3c3c" stroke-width="0.18">800</text>
<line x1="510.30" y1="187.70" x2="512.20" y2="187.70" stroke="#3a3a3a" stroke-width="0.6"/>
<line x1="682.20" y1="187.70" x2="680.30" y2="187.70" stroke="#3a3a3a" stroke-width="0.6"/>
<text transform="translate(508.50,190.49) scale(0.630,0.961)" font-family="Liberation Sans" font-size="8.10" text-anchor="end" fill="#3c3c3c" font-weight="normal" stroke="#3c3c3c" stroke-width="0.18">750</text>
<text transform="translate(596.25,8.00) scale(0.640,0.961)" font-family="Liberation Sans" font-size="10.00" text-anchor="middle" fill="#1a1a1a" font-weight="bold">F3</text>
<text transform="translate(493.80,106.20) scale(0.76,0.961) rotate(-90)" font-family="Liberation Sans" font-size="8.45" text-anchor="middle" fill="#3c3c3c" stroke="#3c3c3c" stroke-width="0.15">Best Score obtained so far</text>
<text transform="translate(596.25,220.80) scale(0.660,0.961)" font-family="Liberation Sans" font-size="8.40" text-anchor="middle" fill="#3c3c3c" font-weight="normal" stroke="#3c3c3c" stroke-width="0.18">FE</text>
<text transform="translate(679.90,221.37) scale(0.620,0.961)" font-family="Liberation Sans" font-size="7.60" text-anchor="end" fill="#3c3c3c" font-weight="normal" stroke="#3c3c3c" stroke-width="0.18">10</text>
<text transform="translate(673.00,221.37) scale(0.750,0.961)" font-family="Liberation Sans" font-size="7.20" text-anchor="end" fill="#3c3c3c" font-weight="normal" stroke="#3c3c3c" stroke-width="0.18">&#215;</text>
<text transform="translate(680.30,218.30) scale(0.550,0.961)" font-family="Liberation Sans" font-size="5.20" text-anchor="start" fill="#3c3c3c" font-weight="normal" stroke="#3c3c3c" stroke-width="0.18">4</text>
<text x="593.50" y="237.60" font-family="Liberation Serif" font-size="14.3" text-anchor="middle" fill="#111">( c )</text>
<rect x="647.60" y="19.60" width="29.90" height="73.90" fill="#fff" stroke="#4a4a4a" stroke-width="0.7"/>
<line x1="649.30" y1="25.04" x2="661.00" y2="25.04" stroke="#BDB82C" stroke-width="1.5"/>
<text transform="translate(662.20,27.15) scale(0.780,0.961)" font-family="Liberation Sans" font-size="6.20" text-anchor="start" fill="#222" font-weight="normal" stroke="#222" stroke-width="0.18">WOA</text>
<line x1="649.30" y1="34.11" x2="661.00" y2="34.11" stroke="#D822D8" stroke-width="1.5"/>
<text transform="translate(662.20,36.22) scale(0.780,0.961)" font-family="Liberation Sans" font-size="6.20" text-anchor="start" fill="#222" font-weight="normal" stroke="#222" stroke-width="0.18">SCA</text>
<line x1="649.30" y1="43.18" x2="661.00" y2="43.18" stroke="#38E038" stroke-width="1.5"/>
<text transform="translate(662.20,45.29) scale(0.780,0.961)" font-family="Liberation Sans" font-size="6.20" text-anchor="start" fill="#222" font-weight="normal" stroke="#222" stroke-width="0.18">TSA</text>
<line x1="649.30" y1="52.24" x2="661.00" y2="52.24" stroke="#111111" stroke-width="1.5"/>
<text transform="translate(662.20,54.36) scale(0.780,0.961)" font-family="Liberation Sans" font-size="6.20" text-anchor="start" fill="#222" font-weight="normal" stroke="#222" stroke-width="0.18">SMA</text>
<line x1="649.30" y1="61.31" x2="661.00" y2="61.31" stroke="#2DBDBD" stroke-width="1.5"/>
<text transform="translate(662.20,63.42) scale(0.780,0.961)" font-family="Liberation Sans" font-size="6.20" text-anchor="start" fill="#222" font-weight="normal" stroke="#222" stroke-width="0.18">HHO</text>
<line x1="649.30" y1="70.38" x2="661.00" y2="70.38" stroke="#9A88C4" stroke-width="1.5"/>
<text transform="translate(662.20,72.49) scale(0.780,0.961)" font-family="Liberation Sans" font-size="6.20" text-anchor="start" fill="#222" font-weight="normal" stroke="#222" stroke-width="0.18">RUN</text>
<line x1="649.30" y1="79.45" x2="661.00" y2="79.45" stroke="#1616D0" stroke-width="1.5"/>
<text transform="translate(662.20,81.56) scale(0.780,0.961)" font-family="Liberation Sans" font-size="6.20" text-anchor="start" fill="#222" font-weight="normal" stroke="#222" stroke-width="0.18">AHA</text>
<line x1="649.30" y1="88.51" x2="661.00" y2="88.51" stroke="#DC2222" stroke-width="1.5"/>
<text transform="translate(662.20,90.63) scale(0.780,0.961)" font-family="Liberation Sans" font-size="6.20" text-anchor="start" fill="#222" font-weight="normal" stroke="#222" stroke-width="0.18">mAHA</text>
<clipPath id="cF4"><rect x="21.90" y="267.60" width="174.40" height="174.70"/></clipPath>
<rect x="22.80" y="268.50" width="172.60" height="172.90" fill="none" stroke="#3a3a3a" stroke-width="0.8"/>
<g clip-path="url(#cF4)" fill="none" stroke-width="1.45" stroke-linejoin="round" stroke-linecap="butt">
<polyline points="23.0,340.0 24.5,404.5 26.7,434.3 29.0,439.6 35.0,440.8 195.4,441.0" stroke="#BDB82C"/>
<polyline points="23.0,330.0 26.5,365.0 27.5,374.6 29.0,383.6 29.7,431.3 46.4,431.3 48.9,433.2 55.8,433.2 56.4,438.5 58.9,439.4 67.7,439.4 70.0,440.5 160.0,440.8 195.4,440.9" stroke="#D822D8"/>
<polyline points="22.9,300.0 23.7,329.9 26.0,344.8 29.0,348.5 34.9,350.0 51.4,350.3 55.2,351.0 57.7,351.5 195.4,351.4" stroke="#38E038"/>
<polyline points="23.0,330.0 24.5,359.7 26.0,367.2 26.0,377.6 26.7,404.5 29.0,431.3 31.9,438.8 40.0,440.8 195.4,441.0" stroke="#111111"/>
<polyline points="23.0,330.0 25.5,360.0 26.7,367.2 29.0,379.1 31.9,386.6 34.9,401.5 39.4,413.4 43.9,419.4 49.9,426.9 53.9,428.4 60.2,430.3 67.7,434.1 76.5,437.8 89.1,439.7 106.0,440.4 195.4,440.8" stroke="#2DBDBD"/>
<polyline points="22.8,268.8 22.8,287.6 23.5,330.0 25.0,380.0 26.5,420.0 28.0,434.0 31.0,439.5 40.0,441.0 195.4,441.0" stroke="#9A88C4" stroke-width="1.2"/>
<polyline points="22.8,287.6 23.0,300.0 26.0,359.7 29.0,397.0 31.9,431.3 34.9,439.6 40.0,440.8 195.4,441.0" stroke="#1616D0"/>
<polyline points="22.8,308.9 23.2,330.0 23.7,434.3 26.0,440.3 35.0,441.0 195.4,441.2" stroke="#DC2222"/>
<polyline points="22.8,268.8 22.8,287.6" stroke="#9A88C4"/>
</g>
<line x1="51.57" y1="441.40" x2="51.57" y2="439.70" stroke="#3a3a3a" stroke-width="0.6"/>
<line x1="51.57" y1="268.50" x2="51.57" y2="270.20" stroke="#3a3a3a" stroke-width="0.6"/>
<text transform="translate(51.57,451.23) scale(0.595,0.894)" font-family="Liberation Sans" font-size="8.10" text-anchor="middle" fill="#3c3c3c" font-weight="normal" stroke="#3c3c3c" stroke-width="0.18">0.5</text>
<line x1="80.33" y1="441.40" x2="80.33" y2="439.70" stroke="#3a3a3a" stroke-width="0.6"/>
<line x1="80.33" y1="268.50" x2="80.33" y2="270.20" stroke="#3a3a3a" stroke-width="0.6"/>
<text transform="translate(80.33,451.23) scale(0.595,0.894)" font-family="Liberation Sans" font-size="8.10" text-anchor="middle" fill="#3c3c3c" font-weight="normal" stroke="#3c3c3c" stroke-width="0.18">1</text>
<line x1="109.10" y1="441.40" x2="109.10" y2="439.70" stroke="#3a3a3a" stroke-width="0.6"/>
<line x1="109.10" y1="268.50" x2="109.10" y2="270.20" stroke="#3a3a3a" stroke-width="0.6"/>
<text transform="translate(109.10,451.23) scale(0.595,0.894)" font-family="Liberation Sans" font-size="8.10" text-anchor="middle" fill="#3c3c3c" font-weight="normal" stroke="#3c3c3c" stroke-width="0.18">1.5</text>
<line x1="137.87" y1="441.40" x2="137.87" y2="439.70" stroke="#3a3a3a" stroke-width="0.6"/>
<line x1="137.87" y1="268.50" x2="137.87" y2="270.20" stroke="#3a3a3a" stroke-width="0.6"/>
<text transform="translate(137.87,451.23) scale(0.595,0.894)" font-family="Liberation Sans" font-size="8.10" text-anchor="middle" fill="#3c3c3c" font-weight="normal" stroke="#3c3c3c" stroke-width="0.18">2</text>
<line x1="166.63" y1="441.40" x2="166.63" y2="439.70" stroke="#3a3a3a" stroke-width="0.6"/>
<line x1="166.63" y1="268.50" x2="166.63" y2="270.20" stroke="#3a3a3a" stroke-width="0.6"/>
<text transform="translate(166.63,451.23) scale(0.595,0.894)" font-family="Liberation Sans" font-size="8.10" text-anchor="middle" fill="#3c3c3c" font-weight="normal" stroke="#3c3c3c" stroke-width="0.18">2.5</text>
<line x1="195.40" y1="441.40" x2="195.40" y2="439.70" stroke="#3a3a3a" stroke-width="0.6"/>
<line x1="195.40" y1="268.50" x2="195.40" y2="270.20" stroke="#3a3a3a" stroke-width="0.6"/>
<text transform="translate(195.40,451.23) scale(0.595,0.894)" font-family="Liberation Sans" font-size="8.10" text-anchor="middle" fill="#3c3c3c" font-weight="normal" stroke="#3c3c3c" stroke-width="0.18">3</text>
<line x1="22.80" y1="303.60" x2="24.70" y2="303.60" stroke="#3a3a3a" stroke-width="0.6"/>
<line x1="195.40" y1="303.60" x2="193.50" y2="303.60" stroke="#3a3a3a" stroke-width="0.6"/>
<text transform="translate(18.02,308.10) scale(0.595,0.894)" font-family="Liberation Sans" font-size="8.10" text-anchor="end" fill="#3c3c3c" font-weight="normal" stroke="#3c3c3c" stroke-width="0.18">10</text>
<text transform="translate(18.12,304.70) scale(0.700,0.894)" font-family="Liberation Sans" font-size="5.60" text-anchor="start" fill="#3c3c3c" font-weight="normal" stroke="#3c3c3c" stroke-width="0.18">6</text>
<line x1="22.80" y1="353.80" x2="24.70" y2="353.80" stroke="#3a3a3a" stroke-width="0.6"/>
<line x1="195.40" y1="353.80" x2="193.50" y2="353.80" stroke="#3a3a3a" stroke-width="0.6"/>
<text transform="translate(18.02,358.30) scale(0.595,0.894)" font-family="Liberation Sans" font-size="8.10" text-anchor="end" fill="#3c3c3c" font-weight="normal" stroke="#3c3c3c" stroke-width="0.18">10</text>
<text transform="translate(18.12,354.90) scale(0.700,0.894)" font-family="Liberation Sans" font-size="5.60" text-anchor="start" fill="#3c3c3c" font-weight="normal" stroke="#3c3c3c" stroke-width="0.18">5</text>
<line x1="22.80" y1="404.50" x2="24.70" y2="404.50" stroke="#3a3a3a" stroke-width="0.6"/>
<line x1="195.40" y1="404.50" x2="193.50" y2="404.50" stroke="#3a3a3a" stroke-width="0.6"/>
<text transform="translate(18.02,409.00) scale(0.595,0.894)" font-family="Liberation Sans" font-size="8.10" text-anchor="end" fill="#3c3c3c" font-weight="normal" stroke="#3c3c3c" stroke-width="0.18">10</text>
<text transform="translate(18.12,405.60) scale(0.700,0.894)" font-family="Liberation Sans" font-size="5.60" text-anchor="start" fill="#3c3c3c" font-weight="normal" stroke="#3c3c3c" stroke-width="0.18">4</text>
<line x1="22.80" y1="439.90" x2="23.90" y2="439.90" stroke="#3a3a3a" stroke-width="0.5"/>
<line x1="195.40" y1="439.90" x2="194.30" y2="439.90" stroke="#3a3a3a" stroke-width="0.5"/>
<line x1="22.80" y1="431.01" x2="23.90" y2="431.01" stroke="#3a3a3a" stroke-width="0.5"/>
<line x1="195.40" y1="431.01" x2="194.30" y2="431.01" stroke="#3a3a3a" stroke-width="0.5"/>
<line x1="22.80" y1="424.70" x2="23.90" y2="424.70" stroke="#3a3a3a" stroke-width="0.5"/>
<line x1="195.40" y1="424.70" x2="194.30" y2="424.70" stroke="#3a3a3a" stroke-width="0.5"/>
<line x1="22.80" y1="419.80" x2="23.90" y2="419.80" stroke="#3a3a3a" stroke-width="0.5"/>
<line x1="195.40" y1="419.80" x2="194.30" y2="419.80" stroke="#3a3a3a" stroke-width="0.5"/>
<line x1="22.80" y1="415.80" x2="23.90" y2="415.80" stroke="#3a3a3a" stroke-width="0.5"/>
<line x1="195.40" y1="415.80" x2="194.30" y2="415.80" stroke="#3a3a3a" stroke-width="0.5"/>
<line x1="22.80" y1="412.42" x2="23.90" y2="412.42" stroke="#3a3a3a" stroke-width="0.5"/>
<line x1="195.40" y1="412.42" x2="194.30" y2="412.42" stroke="#3a3a3a" stroke-width="0.5"/>
<line x1="22.80" y1="409.49" x2="23.90" y2="409.49" stroke="#3a3a3a" stroke-width="0.5"/>
<line x1="195.40" y1="409.49" x2="194.30" y2="409.49" stroke="#3a3a3a" stroke-width="0.5"/>
<line x1="22.80" y1="406.91" x2="23.90" y2="406.91" stroke="#3a3a3a" stroke-width="0.5"/>
<line x1="195.40" y1="406.91" x2="194.30" y2="406.91" stroke="#3a3a3a" stroke-width="0.5"/>
<line x1="22.80" y1="389.40" x2="23.90" y2="389.40" stroke="#3a3a3a" stroke-width="0.5"/>
<line x1="195.40" y1="389.40" x2="194.30" y2="389.40" stroke="#3a3a3a" stroke-width="0.5"/>
<line x1="22.80" y1="380.51" x2="23.90" y2="380.51" stroke="#3a3a3a" stroke-width="0.5"/>
<line x1="195.40" y1="380.51" x2="194.30" y2="380.51" stroke="#3a3a3a" stroke-width="0.5"/>
<line x1="22.80" y1="374.20" x2="23.90" y2="374.20" stroke="#3a3a3a" stroke-width="0.5"/>
<line x1="195.40" y1="374.20" x2="194.30" y2="374.20" stroke="#3a3a3a" stroke-width="0.5"/>
<line x1="22.80" y1="369.30" x2="23.90" y2="369.30" stroke="#3a3a3a" stroke-width="0.5"/>
<line x1="195.40" y1="369.30" x2="194.30" y2="369.30" stroke="#3a3a3a" stroke-width="0.5"/>
<line x1="22.80" y1="365.30" x2="23.90" y2="365.30" stroke="#3a3a3a" stroke-width="0.5"/>
<line x1="195.40" y1="365.30" x2="194.30" y2="365.30" stroke="#3a3a3a" stroke-width="0.5"/>
<line x1="22.80" y1="361.92" x2="23.90" y2="361.92" stroke="#3a3a3a" stroke-width="0.5"/>
<line x1="195.40" y1="361.92" x2="194.30" y2="361.92" stroke="#3a3a3a" stroke-width="0.5"/>
<line x1="22.80" y1="358.99" x2="23.90" y2="358.99" stroke="#3a3a3a" stroke-width="0.5"/>
<line x1="195.40" y1="358.99" x2="194.30" y2="358.99" stroke="#3a3a3a" stroke-width="0.5"/>
<line x1="22.80" y1="356.41" x2="23.90" y2="356.41" stroke="#3a3a3a" stroke-width="0.5"/>
<line x1="195.40" y1="356.41" x2="194.30" y2="356.41" stroke="#3a3a3a" stroke-width="0.5"/>
<line x1="22.80" y1="338.90" x2="23.90" y2="338.90" stroke="#3a3a3a" stroke-width="0.5"/>
<line x1="195.40" y1="338.90" x2="194.30" y2="338.90" stroke="#3a3a3a" stroke-width="0.5"/>
<line x1="22.80" y1="330.01" x2="23.90" y2="330.01" stroke="#3a3a3a" stroke-width="0.5"/>
<line x1="195.40" y1="330.01" x2="194.30" y2="330.01" stroke="#3a3a3a" stroke-width="0.5"/>
<line x1="22.80" y1="323.70" x2="23.90" y2="323.70" stroke="#3a3a3a" stroke-width="0.5"/>
<line x1="195.40" y1="323.70" x2="194.30" y2="323.70" stroke="#3a3a3a" stroke-width="0.5"/>
<line x1="22.80" y1="318.80" x2="23.90" y2="318.80" stroke="#3a3a3a" stroke-width="0.5"/>
<line x1="195.40" y1="318.80" x2="194.30" y2="318.80" stroke="#3a3a3a" stroke-width="0.5"/>
<line x1="22.80" y1="314.80" x2="23.90" y2="314.80" stroke="#3a3a3a" stroke-width="0.5"/>
<line x1="195.40" y1="314.80" x2="194.30" y2="314.80" stroke="#3a3a3a" stroke-width="0.5"/>
<line x1="22.80" y1="311.42" x2="23.90" y2="311.42" stroke="#3a3a3a" stroke-width="0.5"/>
<line x1="195.40" y1="311.42" x2="194.30" y2="311.42" stroke="#3a3a3a" stroke-width="0.5"/>
<line x1="22.80" y1="308.49" x2="23.90" y2="308.49" stroke="#3a3a3a" stroke-width="0.5"/>
<line x1="195.40" y1="308.49" x2="194.30" y2="308.49" stroke="#3a3a3a" stroke-width="0.5"/>
<line x1="22.80" y1="305.91" x2="23.90" y2="305.91" stroke="#3a3a3a" stroke-width="0.5"/>
<line x1="195.40" y1="305.91" x2="194.30" y2="305.91" stroke="#3a3a3a" stroke-width="0.5"/>
<line x1="22.80" y1="288.40" x2="23.90" y2="288.40" stroke="#3a3a3a" stroke-width="0.5"/>
<line x1="195.40" y1="288.40" x2="194.30" y2="288.40" stroke="#3a3a3a" stroke-width="0.5"/>
<line x1="22.80" y1="279.51" x2="23.90" y2="279.51" stroke="#3a3a3a" stroke-width="0.5"/>
<line x1="195.40" y1="279.51" x2="194.30" y2="279.51" stroke="#3a3a3a" stroke-width="0.5"/>
<line x1="22.80" y1="273.20" x2="23.90" y2="273.20" stroke="#3a3a3a" stroke-width="0.5"/>
<line x1="195.40" y1="273.20" x2="194.30" y2="273.20" stroke="#3a3a3a" stroke-width="0.5"/>
<text transform="translate(109.10,264.03) scale(0.640,0.894)" font-family="Liberation Sans" font-size="10.00" text-anchor="middle" fill="#1a1a1a" font-weight="bold">F4</text>
<text transform="translate(9.50,355.20) scale(0.76,0.894) rotate(-90)" font-family="Liberation Sans" font-size="8.45" text-anchor="middle" fill="#3c3c3c" stroke="#3c3c3c" stroke-width="0.15">Best Score obtained so far</text>
<text transform="translate(109.10,461.95) scale(0.660,0.894)" font-family="Liberation Sans" font-size="8.40" text-anchor="middle" fill="#3c3c3c" font-weight="normal" stroke="#3c3c3c" stroke-width="0.18">FE</text>
<text transform="translate(193.10,462.49) scale(0.620,0.894)" font-family="Liberation Sans" font-size="7.60" text-anchor="end" fill="#3c3c3c" font-weight="normal" stroke="#3c3c3c" stroke-width="0.18">10</text>
<text transform="translate(186.20,462.49) scale(0.750,0.894)" font-family="Liberation Sans" font-size="7.20" text-anchor="end" fill="#3c3c3c" font-weight="normal" stroke="#3c3c3c" stroke-width="0.18">&#215;</text>
<text transform="translate(193.50,459.63) scale(0.550,0.894)" font-family="Liberation Sans" font-size="5.20" text-anchor="start" fill="#3c3c3c" font-weight="normal" stroke="#3c3c3c" stroke-width="0.18">4</text>
<text x="106.20" y="478.00" font-family="Liberation Serif" font-size="14.3" text-anchor="middle" fill="#111">( d )</text>
<rect x="159.80" y="276.00" width="31.60" height="67.20" fill="#fff" stroke="#4a4a4a" stroke-width="0.7"/>
<line x1="161.50" y1="280.95" x2="173.20" y2="280.95" stroke="#BDB82C" stroke-width="1.5"/>
<text transform="translate(174.40,282.91) scale(0.780,0.894)" font-family="Liberation Sans" font-size="6.20" text-anchor="start" fill="#222" font-weight="normal" stroke="#222" stroke-width="0.18">WOA</text>
<line x1="161.50" y1="289.19" x2="173.20" y2="289.19" stroke="#D822D8" stroke-width="1.5"/>
<text transform="translate(174.40,291.16) scale(0.780,0.894)" font-family="Liberation Sans" font-size="6.20" text-anchor="start" fill="#222" font-weight="normal" stroke="#222" stroke-width="0.18">SCA</text>
<line x1="161.50" y1="297.44" x2="173.20" y2="297.44" stroke="#38E038" stroke-width="1.5"/>
<text transform="translate(174.40,299.40) scale(0.780,0.894)" font-family="Liberation Sans" font-size="6.20" text-anchor="start" fill="#222" font-weight="normal" stroke="#222" stroke-width="0.18">TSA</text>
<line x1="161.50" y1="305.68" x2="173.20" y2="305.68" stroke="#111111" stroke-width="1.5"/>
<text transform="translate(174.40,307.65) scale(0.780,0.894)" font-family="Liberation Sans" font-size="6.20" text-anchor="start" fill="#222" font-weight="normal" stroke="#222" stroke-width="0.18">SMA</text>
<line x1="161.50" y1="313.93" x2="173.20" y2="313.93" stroke="#2DBDBD" stroke-width="1.5"/>
<text transform="translate(174.40,315.89) scale(0.780,0.894)" font-family="Liberation Sans" font-size="6.20" text-anchor="start" fill="#222" font-weight="normal" stroke="#222" stroke-width="0.18">HHO</text>
<line x1="161.50" y1="322.17" x2="173.20" y2="322.17" stroke="#9A88C4" stroke-width="1.5"/>
<text transform="translate(174.40,324.14) scale(0.780,0.894)" font-family="Liberation Sans" font-size="6.20" text-anchor="start" fill="#222" font-weight="normal" stroke="#222" stroke-width="0.18">RUN</text>
<line x1="161.50" y1="330.42" x2="173.20" y2="330.42" stroke="#1616D0" stroke-width="1.5"/>
<text transform="translate(174.40,332.39) scale(0.780,0.894)" font-family="Liberation Sans" font-size="6.20" text-anchor="start" fill="#222" font-weight="normal" stroke="#222" stroke-width="0.18">AHA</text>
<line x1="161.50" y1="338.67" x2="173.20" y2="338.67" stroke="#DC2222" stroke-width="1.5"/>
<text transform="translate(174.40,340.63) scale(0.780,0.894)" font-family="Liberation Sans" font-size="6.20" text-anchor="start" fill="#222" font-weight="normal" stroke="#222" stroke-width="0.18">mAHA</text>
<clipPath id="cF5"><rect x="263.40" y="266.40" width="175.90" height="157.80"/></clipPath>
<rect x="264.30" y="267.30" width="174.10" height="156.00" fill="none" stroke="#3a3a3a" stroke-width="0.8"/>
<g clip-path="url(#cF5)" fill="none" stroke-width="1.45" stroke-linejoin="round" stroke-linecap="butt">
<polyline points="264.5,300.0 266.8,316.7 270.5,326.7 274.3,334.3 278.1,340.5 285.6,345.6 290.6,347.4 298.2,349.3 304.4,350.6 309.5,352.5 314.5,353.1 318.2,355.6 325.8,357.5 333.3,358.7 349.0,360.1 438.4,360.5" stroke="#BDB82C"/>
<polyline points="264.5,290.0 265.5,311.7 266.8,333.0 271.8,333.0 272.4,356.8 347.7,356.8 347.7,358.2 359.2,358.2 359.2,372.3 430.7,372.3 430.7,378.4 438.4,378.4" stroke="#D822D8"/>
<polyline points="264.5,290.0 264.9,307.9 266.1,326.7 268.0,336.8 271.8,340.5 278.1,343.0 288.1,343.7 349.0,343.8 438.4,343.8" stroke="#38E038"/>
<polyline points="264.5,290.0 264.9,295.4 266.8,307.9 269.3,319.2 273.0,329.2 274.3,333.0 278.1,336.8 281.8,343.0 285.6,349.3 289.4,355.6 294.4,363.0 300.7,372.7 304.4,381.4 310.7,387.7 317.0,394.0 323.3,399.0 332.1,404.0 340.8,407.8 349.0,408.8 362.1,410.4 388.4,411.5 438.4,411.7" stroke="#111111"/>
<polyline points="264.3,267.5 264.5,290.0 264.9,334.3 268.0,339.3 275.6,342.4 284.3,345.6 291.9,349.3 300.7,353.1 313.2,356.5 325.8,359.4 338.3,361.2 349.0,363.5 355.6,364.8 368.7,367.5 381.9,370.7 395.0,374.0 408.1,376.6 421.3,379.3 438.4,381.2" stroke="#2DBDBD"/>
<polyline points="264.3,270.0 264.5,282.0 265.5,314.2 268.0,339.3 271.8,351.3 276.8,358.9 283.1,368.9 289.4,380.2 295.6,389.0 300.7,397.8 305.7,402.1 313.2,404.7 325.8,407.2 338.3,409.7 349.0,410.6 375.3,412.8 401.6,415.4 427.8,418.7 438.4,420.7" stroke="#9A88C4" stroke-width="1.2"/>
<polyline points="264.4,281.6 264.5,294.1 265.5,326.7 266.8,339.3 269.3,351.0 272.4,362.0 274.3,367.6 279.3,377.7 283.1,385.2 288.1,395.2 294.4,402.8 299.4,407.8 303.2,412.2 309.5,415.3 317.0,417.8 332.1,418.5 349.0,419.1 388.4,419.6 438.4,420.0" stroke="#1616D0"/>
<polyline points="264.4,294.0 264.9,326.7 266.1,351.8 266.8,355.1 269.3,380.2 271.8,386.5 276.8,390.2 279.3,392.7 280.6,399.0 283.7,402.8 285.6,405.3 291.9,406.5 296.9,407.8 303.2,411.6 313.2,412.8 322.0,412.8 325.8,415.3 338.3,416.6 349.0,417.6 359.5,419.4 381.9,420.7 401.6,422.0 438.4,423.6" stroke="#DC2222"/>
<polyline points="264.3,270.0 264.3,281.6" stroke="#9A88C4"/>
</g>
<line x1="293.32" y1="423.30" x2="293.32" y2="421.77" stroke="#3a3a3a" stroke-width="0.6"/>
<line x1="293.32" y1="267.30" x2="293.32" y2="268.83" stroke="#3a3a3a" stroke-width="0.6"/>
<text transform="translate(293.32,432.17) scale(0.595,0.806)" font-family="Liberation Sans" font-size="8.10" text-anchor="middle" fill="#3c3c3c" font-weight="normal" stroke="#3c3c3c" stroke-width="0.18">0.5</text>
<line x1="322.33" y1="423.30" x2="322.33" y2="421.77" stroke="#3a3a3a" stroke-width="0.6"/>
<line x1="322.33" y1="267.30" x2="322.33" y2="268.83" stroke="#3a3a3a" stroke-width="0.6"/>
<text transform="translate(322.33,432.17) scale(0.595,0.806)" font-family="Liberation Sans" font-size="8.10" text-anchor="middle" fill="#3c3c3c" font-weight="normal" stroke="#3c3c3c" stroke-width="0.18">1</text>
<line x1="351.35" y1="423.30" x2="351.35" y2="421.77" stroke="#3a3a3a" stroke-width="0.6"/>
<line x1="351.35" y1="267.30" x2="351.35" y2="268.83" stroke="#3a3a3a" stroke-width="0.6"/>
<text transform="translate(351.35,432.17) scale(0.595,0.806)" font-family="Liberation Sans" font-size="8.10" text-anchor="middle" fill="#3c3c3c" font-weight="normal" stroke="#3c3c3c" stroke-width="0.18">1.5</text>
<line x1="380.37" y1="423.30" x2="380.37" y2="421.77" stroke="#3a3a3a" stroke-width="0.6"/>
<line x1="380.37" y1="267.30" x2="380.37" y2="268.83" stroke="#3a3a3a" stroke-width="0.6"/>
<text transform="translate(380.37,432.17) scale(0.595,0.806)" font-family="Liberation Sans" font-size="8.10" text-anchor="middle" fill="#3c3c3c" font-weight="normal" stroke="#3c3c3c" stroke-width="0.18">2</text>
<line x1="409.38" y1="423.30" x2="409.38" y2="421.77" stroke="#3a3a3a" stroke-width="0.6"/>
<line x1="409.38" y1="267.30" x2="409.38" y2="268.83" stroke="#3a3a3a" stroke-width="0.6"/>
<text transform="translate(409.38,432.17) scale(0.595,0.806)" font-family="Liberation Sans" font-size="8.10" text-anchor="middle" fill="#3c3c3c" font-weight="normal" stroke="#3c3c3c" stroke-width="0.18">2.5</text>
<line x1="438.40" y1="423.30" x2="438.40" y2="421.77" stroke="#3a3a3a" stroke-width="0.6"/>
<line x1="438.40" y1="267.30" x2="438.40" y2="268.83" stroke="#3a3a3a" stroke-width="0.6"/>
<text transform="translate(438.40,432.17) scale(0.595,0.806)" font-family="Liberation Sans" font-size="8.10" text-anchor="middle" fill="#3c3c3c" font-weight="normal" stroke="#3c3c3c" stroke-width="0.18">3</text>
<line x1="264.30" y1="290.30" x2="266.20" y2="290.30" stroke="#3a3a3a" stroke-width="0.6"/>
<line x1="438.40" y1="290.30" x2="436.50" y2="290.30" stroke="#3a3a3a" stroke-width="0.6"/>
<text transform="translate(259.52,294.80) scale(0.595,0.806)" font-family="Liberation Sans" font-size="8.10" text-anchor="end" fill="#3c3c3c" font-weight="normal" stroke="#3c3c3c" stroke-width="0.18">10</text>
<text transform="translate(259.62,291.40) scale(0.700,0.806)" font-family="Liberation Sans" font-size="5.60" text-anchor="start" fill="#3c3c3c" font-weight="normal" stroke="#3c3c3c" stroke-width="0.18">7</text>
<line x1="264.30" y1="329.60" x2="266.20" y2="329.60" stroke="#3a3a3a" stroke-width="0.6"/>
<line x1="438.40" y1="329.60" x2="436.50" y2="329.60" stroke="#3a3a3a" stroke-width="0.6"/>
<text transform="translate(259.52,334.10) scale(0.595,0.806)" font-family="Liberation Sans" font-size="8.10" text-anchor="end" fill="#3c3c3c" font-weight="normal" stroke="#3c3c3c" stroke-width="0.18">10</text>
<text transform="translate(259.62,330.70) scale(0.700,0.806)" font-family="Liberation Sans" font-size="5.60" text-anchor="start" fill="#3c3c3c" font-weight="normal" stroke="#3c3c3c" stroke-width="0.18">6</text>
<line x1="264.30" y1="369.00" x2="266.20" y2="369.00" stroke="#3a3a3a" stroke-width="0.6"/>
<line x1="438.40" y1="369.00" x2="436.50" y2="369.00" stroke="#3a3a3a" stroke-width="0.6"/>
<text transform="translate(259.52,373.50) scale(0.595,0.806)" font-family="Liberation Sans" font-size="8.10" text-anchor="end" fill="#3c3c3c" font-weight="normal" stroke="#3c3c3c" stroke-width="0.18">10</text>
<text transform="translate(259.62,370.10) scale(0.700,0.806)" font-family="Liberation Sans" font-size="5.60" text-anchor="start" fill="#3c3c3c" font-weight="normal" stroke="#3c3c3c" stroke-width="0.18">5</text>
<line x1="264.30" y1="408.30" x2="266.20" y2="408.30" stroke="#3a3a3a" stroke-width="0.6"/>
<line x1="438.40" y1="408.30" x2="436.50" y2="408.30" stroke="#3a3a3a" stroke-width="0.6"/>
<text transform="translate(259.52,412.80) scale(0.595,0.806)" font-family="Liberation Sans" font-size="8.10" text-anchor="end" fill="#3c3c3c" font-weight="normal" stroke="#3c3c3c" stroke-width="0.18">10</text>
<text transform="translate(259.62,409.40) scale(0.700,0.806)" font-family="Liberation Sans" font-size="5.60" text-anchor="start" fill="#3c3c3c" font-weight="normal" stroke="#3c3c3c" stroke-width="0.18">4</text>
<line x1="264.30" y1="420.13" x2="265.40" y2="420.13" stroke="#3a3a3a" stroke-width="0.5"/>
<line x1="438.40" y1="420.13" x2="437.30" y2="420.13" stroke="#3a3a3a" stroke-width="0.5"/>
<line x1="264.30" y1="417.02" x2="265.40" y2="417.02" stroke="#3a3a3a" stroke-width="0.5"/>
<line x1="438.40" y1="417.02" x2="437.30" y2="417.02" stroke="#3a3a3a" stroke-width="0.5"/>
<line x1="264.30" y1="414.38" x2="265.40" y2="414.38" stroke="#3a3a3a" stroke-width="0.5"/>
<line x1="438.40" y1="414.38" x2="437.30" y2="414.38" stroke="#3a3a3a" stroke-width="0.5"/>
<line x1="264.30" y1="412.10" x2="265.40" y2="412.10" stroke="#3a3a3a" stroke-width="0.5"/>
<line x1="438.40" y1="412.10" x2="437.30" y2="412.10" stroke="#3a3a3a" stroke-width="0.5"/>
<line x1="264.30" y1="410.09" x2="265.40" y2="410.09" stroke="#3a3a3a" stroke-width="0.5"/>
<line x1="438.40" y1="410.09" x2="437.30" y2="410.09" stroke="#3a3a3a" stroke-width="0.5"/>
<line x1="264.30" y1="396.45" x2="265.40" y2="396.45" stroke="#3a3a3a" stroke-width="0.5"/>
<line x1="438.40" y1="396.45" x2="437.30" y2="396.45" stroke="#3a3a3a" stroke-width="0.5"/>
<line x1="264.30" y1="389.52" x2="265.40" y2="389.52" stroke="#3a3a3a" stroke-width="0.5"/>
<line x1="438.40" y1="389.52" x2="437.30" y2="389.52" stroke="#3a3a3a" stroke-width="0.5"/>
<line x1="264.30" y1="384.61" x2="265.40" y2="384.61" stroke="#3a3a3a" stroke-width="0.5"/>
<line x1="438.40" y1="384.61" x2="437.30" y2="384.61" stroke="#3a3a3a" stroke-width="0.5"/>
<line x1="264.30" y1="380.80" x2="265.40" y2="380.80" stroke="#3a3a3a" stroke-width="0.5"/>
<line x1="438.40" y1="380.80" x2="437.30" y2="380.80" stroke="#3a3a3a" stroke-width="0.5"/>
<line x1="264.30" y1="377.69" x2="265.40" y2="377.69" stroke="#3a3a3a" stroke-width="0.5"/>
<line x1="438.40" y1="377.69" x2="437.30" y2="377.69" stroke="#3a3a3a" stroke-width="0.5"/>
<line x1="264.30" y1="375.05" x2="265.40" y2="375.05" stroke="#3a3a3a" stroke-width="0.5"/>
<line x1="438.40" y1="375.05" x2="437.30" y2="375.05" stroke="#3a3a3a" stroke-width="0.5"/>
<line x1="264.30" y1="372.77" x2="265.40" y2="372.77" stroke="#3a3a3a" stroke-width="0.5"/>
<line x1="438.40" y1="372.77" x2="437.30" y2="372.77" stroke="#3a3a3a" stroke-width="0.5"/>
<line x1="264.30" y1="370.76" x2="265.40" y2="370.76" stroke="#3a3a3a" stroke-width="0.5"/>
<line x1="438.40" y1="370.76" x2="437.30" y2="370.76" stroke="#3a3a3a" stroke-width="0.5"/>
<line x1="264.30" y1="357.12" x2="265.40" y2="357.12" stroke="#3a3a3a" stroke-width="0.5"/>
<line x1="438.40" y1="357.12" x2="437.30" y2="357.12" stroke="#3a3a3a" stroke-width="0.5"/>
<line x1="264.30" y1="350.19" x2="265.40" y2="350.19" stroke="#3a3a3a" stroke-width="0.5"/>
<line x1="438.40" y1="350.19" x2="437.30" y2="350.19" stroke="#3a3a3a" stroke-width="0.5"/>
<line x1="264.30" y1="345.28" x2="265.40" y2="345.28" stroke="#3a3a3a" stroke-width="0.5"/>
<line x1="438.40" y1="345.28" x2="437.30" y2="345.28" stroke="#3a3a3a" stroke-width="0.5"/>
<line x1="264.30" y1="341.47" x2="265.40" y2="341.47" stroke="#3a3a3a" stroke-width="0.5"/>
<line x1="438.40" y1="341.47" x2="437.30" y2="341.47" stroke="#3a3a3a" stroke-width="0.5"/>
<line x1="264.30" y1="338.36" x2="265.40" y2="338.36" stroke="#3a3a3a" stroke-width="0.5"/>
<line x1="438.40" y1="338.36" x2="437.30" y2="338.36" stroke="#3a3a3a" stroke-width="0.5"/>
<line x1="264.30" y1="335.72" x2="265.40" y2="335.72" stroke="#3a3a3a" stroke-width="0.5"/>
<line x1="438.40" y1="335.72" x2="437.30" y2="335.72" stroke="#3a3a3a" stroke-width="0.5"/>
<line x1="264.30" y1="333.44" x2="265.40" y2="333.44" stroke="#3a3a3a" stroke-width="0.5"/>
<line x1="438.40" y1="333.44" x2="437.30" y2="333.44" stroke="#3a3a3a" stroke-width="0.5"/>
<line x1="264.30" y1="331.43" x2="265.40" y2="331.43" stroke="#3a3a3a" stroke-width="0.5"/>
<line x1="438.40" y1="331.43" x2="437.30" y2="331.43" stroke="#3a3a3a" stroke-width="0.5"/>
<line x1="264.30" y1="317.79" x2="265.40" y2="317.79" stroke="#3a3a3a" stroke-width="0.5"/>
<line x1="438.40" y1="317.79" x2="437.30" y2="317.79" stroke="#3a3a3a" stroke-width="0.5"/>
<line x1="264.30" y1="310.86" x2="265.40" y2="310.86" stroke="#3a3a3a" stroke-width="0.5"/>
<line x1="438.40" y1="310.86" x2="437.30" y2="310.86" stroke="#3a3a3a" stroke-width="0.5"/>
<line x1="264.30" y1="305.95" x2="265.40" y2="305.95" stroke="#3a3a3a" stroke-width="0.5"/>
<line x1="438.40" y1="305.95" x2="437.30" y2="305.95" stroke="#3a3a3a" stroke-width="0.5"/>
<line x1="264.30" y1="302.14" x2="265.40" y2="302.14" stroke="#3a3a3a" stroke-width="0.5"/>
<line x1="438.40" y1="302.14" x2="437.30" y2="302.14" stroke="#3a3a3a" stroke-width="0.5"/>
<line x1="264.30" y1="299.03" x2="265.40" y2="299.03" stroke="#3a3a3a" stroke-width="0.5"/>
<line x1="438.40" y1="299.03" x2="437.30" y2="299.03" stroke="#3a3a3a" stroke-width="0.5"/>
<line x1="264.30" y1="296.39" x2="265.40" y2="296.39" stroke="#3a3a3a" stroke-width="0.5"/>
<line x1="438.40" y1="296.39" x2="437.30" y2="296.39" stroke="#3a3a3a" stroke-width="0.5"/>
<line x1="264.30" y1="294.11" x2="265.40" y2="294.11" stroke="#3a3a3a" stroke-width="0.5"/>
<line x1="438.40" y1="294.11" x2="437.30" y2="294.11" stroke="#3a3a3a" stroke-width="0.5"/>
<line x1="264.30" y1="292.10" x2="265.40" y2="292.10" stroke="#3a3a3a" stroke-width="0.5"/>
<line x1="438.40" y1="292.10" x2="437.30" y2="292.10" stroke="#3a3a3a" stroke-width="0.5"/>
<line x1="264.30" y1="278.46" x2="265.40" y2="278.46" stroke="#3a3a3a" stroke-width="0.5"/>
<line x1="438.40" y1="278.46" x2="437.30" y2="278.46" stroke="#3a3a3a" stroke-width="0.5"/>
<line x1="264.30" y1="271.53" x2="265.40" y2="271.53" stroke="#3a3a3a" stroke-width="0.5"/>
<line x1="438.40" y1="271.53" x2="437.30" y2="271.53" stroke="#3a3a3a" stroke-width="0.5"/>
<text transform="translate(351.35,263.27) scale(0.640,0.806)" font-family="Liberation Sans" font-size="10.00" text-anchor="middle" fill="#1a1a1a" font-weight="bold">F5</text>
<text transform="translate(249.60,345.60) scale(0.76,0.806) rotate(-90)" font-family="Liberation Sans" font-size="8.45" text-anchor="middle" fill="#3c3c3c" stroke="#3c3c3c" stroke-width="0.15">Best Score obtained so far</text>
<text transform="translate(351.35,441.84) scale(0.660,0.806)" font-family="Liberation Sans" font-size="8.40" text-anchor="middle" fill="#3c3c3c" font-weight="normal" stroke="#3c3c3c" stroke-width="0.18">FE</text>
<text transform="translate(436.10,442.33) scale(0.620,0.806)" font-family="Liberation Sans" font-size="7.60" text-anchor="end" fill="#3c3c3c" font-weight="normal" stroke="#3c3c3c" stroke-width="0.18">10</text>
<text transform="translate(429.20,442.33) scale(0.750,0.806)" font-family="Liberation Sans" font-size="7.20" text-anchor="end" fill="#3c3c3c" font-weight="normal" stroke="#3c3c3c" stroke-width="0.18">&#215;</text>
<text transform="translate(436.50,439.75) scale(0.550,0.806)" font-family="Liberation Sans" font-size="5.20" text-anchor="start" fill="#3c3c3c" font-weight="normal" stroke="#3c3c3c" stroke-width="0.18">4</text>
<text x="346.70" y="458.40" font-family="Liberation Serif" font-size="14.3" text-anchor="middle" fill="#111">( e )</text>
<rect x="403.20" y="273.30" width="30.40" height="62.30" fill="#fff" stroke="#4a4a4a" stroke-width="0.7"/>
<line x1="404.90" y1="277.89" x2="416.60" y2="277.89" stroke="#BDB82C" stroke-width="1.5"/>
<text transform="translate(417.80,279.66) scale(0.780,0.806)" font-family="Liberation Sans" font-size="6.20" text-anchor="start" fill="#222" font-weight="normal" stroke="#222" stroke-width="0.18">WOA</text>
<line x1="404.90" y1="285.53" x2="416.60" y2="285.53" stroke="#D822D8" stroke-width="1.5"/>
<text transform="translate(417.80,287.30) scale(0.780,0.806)" font-family="Liberation Sans" font-size="6.20" text-anchor="start" fill="#222" font-weight="normal" stroke="#222" stroke-width="0.18">SCA</text>
<line x1="404.90" y1="293.17" x2="416.60" y2="293.17" stroke="#38E038" stroke-width="1.5"/>
<text transform="translate(417.80,294.95) scale(0.780,0.806)" font-family="Liberation Sans" font-size="6.20" text-anchor="start" fill="#222" font-weight="normal" stroke="#222" stroke-width="0.18">TSA</text>
<line x1="404.90" y1="300.82" x2="416.60" y2="300.82" stroke="#111111" stroke-width="1.5"/>
<text transform="translate(417.80,302.59) scale(0.780,0.806)" font-family="Liberation Sans" font-size="6.20" text-anchor="start" fill="#222" font-weight="normal" stroke="#222" stroke-width="0.18">SMA</text>
<line x1="404.90" y1="308.46" x2="416.60" y2="308.46" stroke="#2DBDBD" stroke-width="1.5"/>
<text transform="translate(417.80,310.24) scale(0.780,0.806)" font-family="Liberation Sans" font-size="6.20" text-anchor="start" fill="#222" font-weight="normal" stroke="#222" stroke-width="0.18">HHO</text>
<line x1="404.90" y1="316.11" x2="416.60" y2="316.11" stroke="#9A88C4" stroke-width="1.5"/>
<text transform="translate(417.80,317.88) scale(0.780,0.806)" font-family="Liberation Sans" font-size="6.20" text-anchor="start" fill="#222" font-weight="normal" stroke="#222" stroke-width="0.18">RUN</text>
<line x1="404.90" y1="323.75" x2="416.60" y2="323.75" stroke="#1616D0" stroke-width="1.5"/>
<text transform="translate(417.80,325.53) scale(0.780,0.806)" font-family="Liberation Sans" font-size="6.20" text-anchor="start" fill="#222" font-weight="normal" stroke="#222" stroke-width="0.18">AHA</text>
<line x1="404.90" y1="331.40" x2="416.60" y2="331.40" stroke="#DC2222" stroke-width="1.5"/>
<text transform="translate(417.80,333.17) scale(0.780,0.806)" font-family="Liberation Sans" font-size="6.20" text-anchor="start" fill="#222" font-weight="normal" stroke="#222" stroke-width="0.18">mAHA</text>
<clipPath id="cF6"><rect x="503.40" y="266.40" width="173.90" height="157.90"/></clipPath>
<rect x="504.30" y="267.30" width="172.10" height="156.10" fill="none" stroke="#3a3a3a" stroke-width="0.8"/>
<g clip-path="url(#cF6)" fill="none" stroke-width="1.45" stroke-linejoin="round" stroke-linecap="butt">
<polyline points="504.5,380.0 505.2,400.0 506.4,406.4 509.8,410.7 515.8,413.3 524.3,415.0 530.3,417.5 541.4,418.4 560.0,418.4 676.4,418.3" stroke="#BDB82C"/>
<polyline points="504.3,267.5 504.3,304.2 504.3,371.0 504.8,385.0 505.6,401.3 508.1,401.7 508.5,412.0 524.3,412.0 524.3,421.8 540.0,422.2 554.2,422.4 676.4,422.8" stroke="#D822D8"/>
<polyline points="504.5,380.0 505.6,396.2 508.1,397.5 520.1,399.2 524.3,400.0 556.0,400.1 584.5,400.1 585.4,401.4 609.4,401.4 609.8,404.6 668.2,404.9 670.9,406.0 676.4,406.0" stroke="#38E038"/>
<polyline points="504.5,380.0 505.6,400.5 507.3,409.0 509.8,415.8 513.2,419.2 520.1,421.8 530.0,422.6 676.4,422.9" stroke="#111111"/>
<polyline points="504.5,380.0 505.6,403.9 508.1,406.4 515.8,408.1 524.3,409.0 537.1,409.8 556.0,410.8 582.7,411.7 627.2,412.6 641.5,414.4 662.9,414.9 676.4,415.6" stroke="#2DBDBD"/>
<polyline points="504.3,302.0 504.3,355.6 504.6,380.0 505.3,400.0 506.8,410.0 509.0,416.5 513.0,420.0 520.0,422.0 530.0,422.7 676.4,422.9" stroke="#9A88C4" stroke-width="1.2"/>
<polyline points="504.3,355.4 504.5,371.4 505.1,399.6 506.4,411.6 509.0,418.4 513.2,420.9 520.1,422.2 530.0,422.8 676.4,423.0" stroke="#1616D0"/>
<polyline points="504.3,371.5 504.7,404.7 505.6,420.1 508.1,422.6 520.0,423.0 676.4,423.1" stroke="#DC2222"/>
<polyline points="504.3,302.0 504.3,355.6" stroke="#9A88C4"/>
</g>
<line x1="532.98" y1="423.40" x2="532.98" y2="421.87" stroke="#3a3a3a" stroke-width="0.6"/>
<line x1="532.98" y1="267.30" x2="532.98" y2="268.83" stroke="#3a3a3a" stroke-width="0.6"/>
<text transform="translate(532.98,432.27) scale(0.595,0.807)" font-family="Liberation Sans" font-size="8.10" text-anchor="middle" fill="#3c3c3c" font-weight="normal" stroke="#3c3c3c" stroke-width="0.18">0.5</text>
<line x1="561.67" y1="423.40" x2="561.67" y2="421.87" stroke="#3a3a3a" stroke-width="0.6"/>
<line x1="561.67" y1="267.30" x2="561.67" y2="268.83" stroke="#3a3a3a" stroke-width="0.6"/>
<text transform="translate(561.67,432.27) scale(0.595,0.807)" font-family="Liberation Sans" font-size="8.10" text-anchor="middle" fill="#3c3c3c" font-weight="normal" stroke="#3c3c3c" stroke-width="0.18">1</text>
<line x1="590.35" y1="423.40" x2="590.35" y2="421.87" stroke="#3a3a3a" stroke-width="0.6"/>
<line x1="590.35" y1="267.30" x2="590.35" y2="268.83" stroke="#3a3a3a" stroke-width="0.6"/>
<text transform="translate(590.35,432.27) scale(0.595,0.807)" font-family="Liberation Sans" font-size="8.10" text-anchor="middle" fill="#3c3c3c" font-weight="normal" stroke="#3c3c3c" stroke-width="0.18">1.5</text>
<line x1="619.03" y1="423.40" x2="619.03" y2="421.87" stroke="#3a3a3a" stroke-width="0.6"/>
<line x1="619.03" y1="267.30" x2="619.03" y2="268.83" stroke="#3a3a3a" stroke-width="0.6"/>
<text transform="translate(619.03,432.27) scale(0.595,0.807)" font-family="Liberation Sans" font-size="8.10" text-anchor="middle" fill="#3c3c3c" font-weight="normal" stroke="#3c3c3c" stroke-width="0.18">2</text>
<line x1="647.72" y1="423.40" x2="647.72" y2="421.87" stroke="#3a3a3a" stroke-width="0.6"/>
<line x1="647.72" y1="267.30" x2="647.72" y2="268.83" stroke="#3a3a3a" stroke-width="0.6"/>
<text transform="translate(647.72,432.27) scale(0.595,0.807)" font-family="Liberation Sans" font-size="8.10" text-anchor="middle" fill="#3c3c3c" font-weight="normal" stroke="#3c3c3c" stroke-width="0.18">2.5</text>
<line x1="676.40" y1="423.40" x2="676.40" y2="421.87" stroke="#3a3a3a" stroke-width="0.6"/>
<line x1="676.40" y1="267.30" x2="676.40" y2="268.83" stroke="#3a3a3a" stroke-width="0.6"/>
<text transform="translate(676.40,432.27) scale(0.595,0.807)" font-family="Liberation Sans" font-size="8.10" text-anchor="middle" fill="#3c3c3c" font-weight="normal" stroke="#3c3c3c" stroke-width="0.18">3</text>
<line x1="504.30" y1="285.80" x2="506.20" y2="285.80" stroke="#3a3a3a" stroke-width="0.6"/>
<line x1="676.40" y1="285.80" x2="674.50" y2="285.80" stroke="#3a3a3a" stroke-width="0.6"/>
<text transform="translate(502.50,288.14) scale(0.630,0.807)" font-family="Liberation Sans" font-size="8.10" text-anchor="end" fill="#3c3c3c" font-weight="normal" stroke="#3c3c3c" stroke-width="0.18">1900</text>
<line x1="504.30" y1="307.50" x2="506.20" y2="307.50" stroke="#3a3a3a" stroke-width="0.6"/>
<line x1="676.40" y1="307.50" x2="674.50" y2="307.50" stroke="#3a3a3a" stroke-width="0.6"/>
<text transform="translate(502.50,309.84) scale(0.630,0.807)" font-family="Liberation Sans" font-size="8.10" text-anchor="end" fill="#3c3c3c" font-weight="normal" stroke="#3c3c3c" stroke-width="0.18">1850</text>
<line x1="504.30" y1="329.90" x2="506.20" y2="329.90" stroke="#3a3a3a" stroke-width="0.6"/>
<line x1="676.40" y1="329.90" x2="674.50" y2="329.90" stroke="#3a3a3a" stroke-width="0.6"/>
<text transform="translate(502.50,332.24) scale(0.630,0.807)" font-family="Liberation Sans" font-size="8.10" text-anchor="end" fill="#3c3c3c" font-weight="normal" stroke="#3c3c3c" stroke-width="0.18">1800</text>
<line x1="504.30" y1="352.60" x2="506.20" y2="352.60" stroke="#3a3a3a" stroke-width="0.6"/>
<line x1="676.40" y1="352.60" x2="674.50" y2="352.60" stroke="#3a3a3a" stroke-width="0.6"/>
<text transform="translate(502.50,354.94) scale(0.630,0.807)" font-family="Liberation Sans" font-size="8.10" text-anchor="end" fill="#3c3c3c" font-weight="normal" stroke="#3c3c3c" stroke-width="0.18">1750</text>
<line x1="504.30" y1="375.60" x2="506.20" y2="375.60" stroke="#3a3a3a" stroke-width="0.6"/>
<line x1="676.40" y1="375.60" x2="674.50" y2="375.60" stroke="#3a3a3a" stroke-width="0.6"/>
<text transform="translate(502.50,377.94) scale(0.630,0.807)" font-family="Liberation Sans" font-size="8.10" text-anchor="end" fill="#3c3c3c" font-weight="normal" stroke="#3c3c3c" stroke-width="0.18">1700</text>
<line x1="504.30" y1="399.80" x2="506.20" y2="399.80" stroke="#3a3a3a" stroke-width="0.6"/>
<line x1="676.40" y1="399.80" x2="674.50" y2="399.80" stroke="#3a3a3a" stroke-width="0.6"/>
<text transform="translate(502.50,402.14) scale(0.630,0.807)" font-family="Liberation Sans" font-size="8.10" text-anchor="end" fill="#3c3c3c" font-weight="normal" stroke="#3c3c3c" stroke-width="0.18">1650</text>
<text transform="translate(590.35,263.27) scale(0.640,0.807)" font-family="Liberation Sans" font-size="10.00" text-anchor="middle" fill="#1a1a1a" font-weight="bold">F6</text>
<text transform="translate(487.60,343.50) scale(0.76,0.807) rotate(-90)" font-family="Liberation Sans" font-size="8.45" text-anchor="middle" fill="#3c3c3c" stroke="#3c3c3c" stroke-width="0.15">Best Score obtained so far</text>
<text transform="translate(590.35,441.95) scale(0.660,0.807)" font-family="Liberation Sans" font-size="8.40" text-anchor="middle" fill="#3c3c3c" font-weight="normal" stroke="#3c3c3c" stroke-width="0.18">FE</text>
<text transform="translate(674.10,442.44) scale(0.620,0.807)" font-family="Liberation Sans" font-size="7.60" text-anchor="end" fill="#3c3c3c" font-weight="normal" stroke="#3c3c3c" stroke-width="0.18">10</text>
<text transform="translate(667.20,442.44) scale(0.750,0.807)" font-family="Liberation Sans" font-size="7.20" text-anchor="end" fill="#3c3c3c" font-weight="normal" stroke="#3c3c3c" stroke-width="0.18">&#215;</text>
<text transform="translate(674.50,439.86) scale(0.550,0.807)" font-family="Liberation Sans" font-size="5.20" text-anchor="start" fill="#3c3c3c" font-weight="normal" stroke="#3c3c3c" stroke-width="0.18">4</text>
<text x="587.50" y="474.70" font-family="Liberation Serif" font-size="14.3" text-anchor="middle" fill="#111">( f )</text>
<rect x="641.30" y="273.20" width="30.40" height="61.80" fill="#fff" stroke="#4a4a4a" stroke-width="0.7"/>
<line x1="643.00" y1="277.75" x2="654.70" y2="277.75" stroke="#BDB82C" stroke-width="1.5"/>
<text transform="translate(655.90,279.52) scale(0.780,0.807)" font-family="Liberation Sans" font-size="6.20" text-anchor="start" fill="#222" font-weight="normal" stroke="#222" stroke-width="0.18">WOA</text>
<line x1="643.00" y1="285.33" x2="654.70" y2="285.33" stroke="#D822D8" stroke-width="1.5"/>
<text transform="translate(655.90,287.11) scale(0.780,0.807)" font-family="Liberation Sans" font-size="6.20" text-anchor="start" fill="#222" font-weight="normal" stroke="#222" stroke-width="0.18">SCA</text>
<line x1="643.00" y1="292.92" x2="654.70" y2="292.92" stroke="#38E038" stroke-width="1.5"/>
<text transform="translate(655.90,294.69) scale(0.780,0.807)" font-family="Liberation Sans" font-size="6.20" text-anchor="start" fill="#222" font-weight="normal" stroke="#222" stroke-width="0.18">TSA</text>
<line x1="643.00" y1="300.50" x2="654.70" y2="300.50" stroke="#111111" stroke-width="1.5"/>
<text transform="translate(655.90,302.27) scale(0.780,0.807)" font-family="Liberation Sans" font-size="6.20" text-anchor="start" fill="#222" font-weight="normal" stroke="#222" stroke-width="0.18">SMA</text>
<line x1="643.00" y1="308.08" x2="654.70" y2="308.08" stroke="#2DBDBD" stroke-width="1.5"/>
<text transform="translate(655.90,309.86) scale(0.780,0.807)" font-family="Liberation Sans" font-size="6.20" text-anchor="start" fill="#222" font-weight="normal" stroke="#222" stroke-width="0.18">HHO</text>
<line x1="643.00" y1="315.66" x2="654.70" y2="315.66" stroke="#9A88C4" stroke-width="1.5"/>
<text transform="translate(655.90,317.44) scale(0.780,0.807)" font-family="Liberation Sans" font-size="6.20" text-anchor="start" fill="#222" font-weight="normal" stroke="#222" stroke-width="0.18">RUN</text>
<line x1="643.00" y1="323.25" x2="654.70" y2="323.25" stroke="#1616D0" stroke-width="1.5"/>
<text transform="translate(655.90,325.02) scale(0.780,0.807)" font-family="Liberation Sans" font-size="6.20" text-anchor="start" fill="#222" font-weight="normal" stroke="#222" stroke-width="0.18">AHA</text>
<line x1="643.00" y1="330.83" x2="654.70" y2="330.83" stroke="#DC2222" stroke-width="1.5"/>
<text transform="translate(655.90,332.60) scale(0.780,0.807)" font-family="Liberation Sans" font-size="6.20" text-anchor="start" fill="#222" font-weight="normal" stroke="#222" stroke-width="0.18">mAHA</text>
<clipPath id="cF7"><rect x="21.70" y="498.10" width="174.30" height="193.50"/></clipPath>
<rect x="22.60" y="499.00" width="172.50" height="191.70" fill="none" stroke="#3a3a3a" stroke-width="0.8"/>
<g clip-path="url(#cF7)" fill="none" stroke-width="1.45" stroke-linejoin="round" stroke-linecap="butt">
<polyline points="22.9,530.0 24.1,556.2 28.5,562.5 33.6,566.9 37.3,571.3 41.1,576.3 44.9,581.3 48.6,583.8 51.1,587.6 56.2,589.5 57.4,593.0 61.2,595.5 64.9,598.0 71.2,600.5 77.5,603.0 83.8,605.5 93.8,606.8 96.3,615.6 101.4,616.8 107.0,617.2 195.1,617.3" stroke="#BDB82C"/>
<polyline points="22.9,530.0 24.5,590.0 26.2,613.1 75.6,613.1 76.2,624.4 93.2,625.0 94.4,627.5 101.4,627.5 102.6,632.2 122.8,632.2 123.4,637.0 158.2,637.0 159.6,637.7 195.1,637.7" stroke="#D822D8"/>
<polyline points="22.9,499.2 22.9,503.5 24.0,560.0 24.8,571.3 26.0,599.3 28.5,611.8 31.0,618.1 36.1,622.5 46.1,625.9 58.7,627.1 83.8,627.9 107.0,628.8 195.1,628.9" stroke="#38E038"/>
<polyline points="22.9,540.0 24.1,555.0 27.3,571.3 29.8,583.8 31.7,596.0 33.6,605.5 36.1,620.6 39.8,630.6 43.6,639.4 47.4,648.2 52.4,655.7 58.7,658.9 67.5,661.4 77.5,662.6 90.1,664.5 107.0,666.8 113.6,667.6 133.3,669.0 159.6,669.9 195.1,670.5" stroke="#111111"/>
<polyline points="22.9,540.0 23.5,558.7 27.3,562.5 33.6,564.4 46.1,566.3 52.4,569.4 64.9,571.9 77.5,575.0 90.1,576.9 101.4,580.1 107.0,581.2 113.6,582.7 120.1,585.4 126.7,588.6 133.3,591.3 142.5,595.4 146.4,599.6 151.7,606.1 155.6,614.0 159.6,618.0 166.1,624.5 171.4,628.5 176.6,635.0 181.9,641.6 185.8,645.6 191.1,649.5 195.1,657.4" stroke="#2DBDBD"/>
<polyline points="22.9,503.5 22.9,522.3 23.6,545.0 24.8,565.0 28.5,581.3 33.6,590.0 34.2,593.0 37.3,605.5 40.5,618.1 46.1,622.5 48.0,624.4 49.2,639.4 51.1,640.7 51.8,654.5 53.6,658.2 58.7,660.8 59.9,667.0 64.9,669.5 73.7,672.0 90.1,673.3 107.0,673.6 146.4,674.1 179.3,675.1 185.8,675.8 191.1,677.1 195.1,678.2" stroke="#9A88C4" stroke-width="1.2"/>
<polyline points="22.9,522.3 22.9,536.0 23.5,558.7 25.4,593.0 27.3,618.1 29.8,649.5 32.3,663.3 37.3,669.5 43.6,672.7 52.4,674.3 58.7,674.8 64.9,676.4 77.5,677.3 107.0,679.1 146.4,679.5 195.1,680.0" stroke="#1616D0"/>
<polyline points="22.9,536.2 23.3,593.0 24.1,630.6 25.4,662.0 28.5,672.0 33.6,676.4 39.8,677.7 46.1,679.6 52.4,680.8 62.4,682.1 66.2,686.5 73.7,687.7 90.1,689.0 107.0,689.5 122.8,689.6 126.7,690.4 195.1,690.5" stroke="#DC2222"/>
<polyline points="22.9,503.5 22.9,522.3" stroke="#9A88C4"/>
</g>
<line x1="51.35" y1="690.70" x2="51.35" y2="688.82" stroke="#3a3a3a" stroke-width="0.6"/>
<line x1="51.35" y1="499.00" x2="51.35" y2="500.88" stroke="#3a3a3a" stroke-width="0.6"/>
<text transform="translate(51.35,701.60) scale(0.595,0.991)" font-family="Liberation Sans" font-size="8.10" text-anchor="middle" fill="#3c3c3c" font-weight="normal" stroke="#3c3c3c" stroke-width="0.18">0.5</text>
<line x1="80.10" y1="690.70" x2="80.10" y2="688.82" stroke="#3a3a3a" stroke-width="0.6"/>
<line x1="80.10" y1="499.00" x2="80.10" y2="500.88" stroke="#3a3a3a" stroke-width="0.6"/>
<text transform="translate(80.10,701.60) scale(0.595,0.991)" font-family="Liberation Sans" font-size="8.10" text-anchor="middle" fill="#3c3c3c" font-weight="normal" stroke="#3c3c3c" stroke-width="0.18">1</text>
<line x1="108.85" y1="690.70" x2="108.85" y2="688.82" stroke="#3a3a3a" stroke-width="0.6"/>
<line x1="108.85" y1="499.00" x2="108.85" y2="500.88" stroke="#3a3a3a" stroke-width="0.6"/>
<text transform="translate(108.85,701.60) scale(0.595,0.991)" font-family="Liberation Sans" font-size="8.10" text-anchor="middle" fill="#3c3c3c" font-weight="normal" stroke="#3c3c3c" stroke-width="0.18">1.5</text>
<line x1="137.60" y1="690.70" x2="137.60" y2="688.82" stroke="#3a3a3a" stroke-width="0.6"/>
<line x1="137.60" y1="499.00" x2="137.60" y2="500.88" stroke="#3a3a3a" stroke-width="0.6"/>
<text transform="translate(137.60,701.60) scale(0.595,0.991)" font-family="Liberation Sans" font-size="8.10" text-anchor="middle" fill="#3c3c3c" font-weight="normal" stroke="#3c3c3c" stroke-width="0.18">2</text>
<line x1="166.35" y1="690.70" x2="166.35" y2="688.82" stroke="#3a3a3a" stroke-width="0.6"/>
<line x1="166.35" y1="499.00" x2="166.35" y2="500.88" stroke="#3a3a3a" stroke-width="0.6"/>
<text transform="translate(166.35,701.60) scale(0.595,0.991)" font-family="Liberation Sans" font-size="8.10" text-anchor="middle" fill="#3c3c3c" font-weight="normal" stroke="#3c3c3c" stroke-width="0.18">2.5</text>
<line x1="195.10" y1="690.70" x2="195.10" y2="688.82" stroke="#3a3a3a" stroke-width="0.6"/>
<line x1="195.10" y1="499.00" x2="195.10" y2="500.88" stroke="#3a3a3a" stroke-width="0.6"/>
<text transform="translate(195.10,701.60) scale(0.595,0.991)" font-family="Liberation Sans" font-size="8.10" text-anchor="middle" fill="#3c3c3c" font-weight="normal" stroke="#3c3c3c" stroke-width="0.18">3</text>
<line x1="22.60" y1="525.40" x2="24.50" y2="525.40" stroke="#3a3a3a" stroke-width="0.6"/>
<line x1="195.10" y1="525.40" x2="193.20" y2="525.40" stroke="#3a3a3a" stroke-width="0.6"/>
<text transform="translate(17.82,529.90) scale(0.595,0.991)" font-family="Liberation Sans" font-size="8.10" text-anchor="end" fill="#3c3c3c" font-weight="normal" stroke="#3c3c3c" stroke-width="0.18">10</text>
<text transform="translate(17.92,526.50) scale(0.700,0.991)" font-family="Liberation Sans" font-size="5.60" text-anchor="start" fill="#3c3c3c" font-weight="normal" stroke="#3c3c3c" stroke-width="0.18">7</text>
<line x1="22.60" y1="570.40" x2="24.50" y2="570.40" stroke="#3a3a3a" stroke-width="0.6"/>
<line x1="195.10" y1="570.40" x2="193.20" y2="570.40" stroke="#3a3a3a" stroke-width="0.6"/>
<text transform="translate(17.82,574.90) scale(0.595,0.991)" font-family="Liberation Sans" font-size="8.10" text-anchor="end" fill="#3c3c3c" font-weight="normal" stroke="#3c3c3c" stroke-width="0.18">10</text>
<text transform="translate(17.92,571.50) scale(0.700,0.991)" font-family="Liberation Sans" font-size="5.60" text-anchor="start" fill="#3c3c3c" font-weight="normal" stroke="#3c3c3c" stroke-width="0.18">6</text>
<line x1="22.60" y1="615.40" x2="24.50" y2="615.40" stroke="#3a3a3a" stroke-width="0.6"/>
<line x1="195.10" y1="615.40" x2="193.20" y2="615.40" stroke="#3a3a3a" stroke-width="0.6"/>
<text transform="translate(17.82,619.90) scale(0.595,0.991)" font-family="Liberation Sans" font-size="8.10" text-anchor="end" fill="#3c3c3c" font-weight="normal" stroke="#3c3c3c" stroke-width="0.18">10</text>
<text transform="translate(17.92,616.50) scale(0.700,0.991)" font-family="Liberation Sans" font-size="5.60" text-anchor="start" fill="#3c3c3c" font-weight="normal" stroke="#3c3c3c" stroke-width="0.18">5</text>
<line x1="22.60" y1="660.40" x2="24.50" y2="660.40" stroke="#3a3a3a" stroke-width="0.6"/>
<line x1="195.10" y1="660.40" x2="193.20" y2="660.40" stroke="#3a3a3a" stroke-width="0.6"/>
<text transform="translate(17.82,664.90) scale(0.595,0.991)" font-family="Liberation Sans" font-size="8.10" text-anchor="end" fill="#3c3c3c" font-weight="normal" stroke="#3c3c3c" stroke-width="0.18">10</text>
<text transform="translate(17.92,661.50) scale(0.700,0.991)" font-family="Liberation Sans" font-size="5.60" text-anchor="start" fill="#3c3c3c" font-weight="normal" stroke="#3c3c3c" stroke-width="0.18">4</text>
<line x1="22.60" y1="683.93" x2="23.70" y2="683.93" stroke="#3a3a3a" stroke-width="0.5"/>
<line x1="195.10" y1="683.93" x2="194.00" y2="683.93" stroke="#3a3a3a" stroke-width="0.5"/>
<line x1="22.60" y1="678.31" x2="23.70" y2="678.31" stroke="#3a3a3a" stroke-width="0.5"/>
<line x1="195.10" y1="678.31" x2="194.00" y2="678.31" stroke="#3a3a3a" stroke-width="0.5"/>
<line x1="22.60" y1="673.95" x2="23.70" y2="673.95" stroke="#3a3a3a" stroke-width="0.5"/>
<line x1="195.10" y1="673.95" x2="194.00" y2="673.95" stroke="#3a3a3a" stroke-width="0.5"/>
<line x1="22.60" y1="670.38" x2="23.70" y2="670.38" stroke="#3a3a3a" stroke-width="0.5"/>
<line x1="195.10" y1="670.38" x2="194.00" y2="670.38" stroke="#3a3a3a" stroke-width="0.5"/>
<line x1="22.60" y1="667.37" x2="23.70" y2="667.37" stroke="#3a3a3a" stroke-width="0.5"/>
<line x1="195.10" y1="667.37" x2="194.00" y2="667.37" stroke="#3a3a3a" stroke-width="0.5"/>
<line x1="22.60" y1="664.76" x2="23.70" y2="664.76" stroke="#3a3a3a" stroke-width="0.5"/>
<line x1="195.10" y1="664.76" x2="194.00" y2="664.76" stroke="#3a3a3a" stroke-width="0.5"/>
<line x1="22.60" y1="662.46" x2="23.70" y2="662.46" stroke="#3a3a3a" stroke-width="0.5"/>
<line x1="195.10" y1="662.46" x2="194.00" y2="662.46" stroke="#3a3a3a" stroke-width="0.5"/>
<line x1="22.60" y1="646.85" x2="23.70" y2="646.85" stroke="#3a3a3a" stroke-width="0.5"/>
<line x1="195.10" y1="646.85" x2="194.00" y2="646.85" stroke="#3a3a3a" stroke-width="0.5"/>
<line x1="22.60" y1="638.93" x2="23.70" y2="638.93" stroke="#3a3a3a" stroke-width="0.5"/>
<line x1="195.10" y1="638.93" x2="194.00" y2="638.93" stroke="#3a3a3a" stroke-width="0.5"/>
<line x1="22.60" y1="633.31" x2="23.70" y2="633.31" stroke="#3a3a3a" stroke-width="0.5"/>
<line x1="195.10" y1="633.31" x2="194.00" y2="633.31" stroke="#3a3a3a" stroke-width="0.5"/>
<line x1="22.60" y1="628.95" x2="23.70" y2="628.95" stroke="#3a3a3a" stroke-width="0.5"/>
<line x1="195.10" y1="628.95" x2="194.00" y2="628.95" stroke="#3a3a3a" stroke-width="0.5"/>
<line x1="22.60" y1="625.38" x2="23.70" y2="625.38" stroke="#3a3a3a" stroke-width="0.5"/>
<line x1="195.10" y1="625.38" x2="194.00" y2="625.38" stroke="#3a3a3a" stroke-width="0.5"/>
<line x1="22.60" y1="622.37" x2="23.70" y2="622.37" stroke="#3a3a3a" stroke-width="0.5"/>
<line x1="195.10" y1="622.37" x2="194.00" y2="622.37" stroke="#3a3a3a" stroke-width="0.5"/>
<line x1="22.60" y1="619.76" x2="23.70" y2="619.76" stroke="#3a3a3a" stroke-width="0.5"/>
<line x1="195.10" y1="619.76" x2="194.00" y2="619.76" stroke="#3a3a3a" stroke-width="0.5"/>
<line x1="22.60" y1="617.46" x2="23.70" y2="617.46" stroke="#3a3a3a" stroke-width="0.5"/>
<line x1="195.10" y1="617.46" x2="194.00" y2="617.46" stroke="#3a3a3a" stroke-width="0.5"/>
<line x1="22.60" y1="601.85" x2="23.70" y2="601.85" stroke="#3a3a3a" stroke-width="0.5"/>
<line x1="195.10" y1="601.85" x2="194.00" y2="601.85" stroke="#3a3a3a" stroke-width="0.5"/>
<line x1="22.60" y1="593.93" x2="23.70" y2="593.93" stroke="#3a3a3a" stroke-width="0.5"/>
<line x1="195.10" y1="593.93" x2="194.00" y2="593.93" stroke="#3a3a3a" stroke-width="0.5"/>
<line x1="22.60" y1="588.31" x2="23.70" y2="588.31" stroke="#3a3a3a" stroke-width="0.5"/>
<line x1="195.10" y1="588.31" x2="194.00" y2="588.31" stroke="#3a3a3a" stroke-width="0.5"/>
<line x1="22.60" y1="583.95" x2="23.70" y2="583.95" stroke="#3a3a3a" stroke-width="0.5"/>
<line x1="195.10" y1="583.95" x2="194.00" y2="583.95" stroke="#3a3a3a" stroke-width="0.5"/>
<line x1="22.60" y1="580.38" x2="23.70" y2="580.38" stroke="#3a3a3a" stroke-width="0.5"/>
<line x1="195.10" y1="580.38" x2="194.00" y2="580.38" stroke="#3a3a3a" stroke-width="0.5"/>
<line x1="22.60" y1="577.37" x2="23.70" y2="577.37" stroke="#3a3a3a" stroke-width="0.5"/>
<line x1="195.10" y1="577.37" x2="194.00" y2="577.37" stroke="#3a3a3a" stroke-width="0.5"/>
<line x1="22.60" y1="574.76" x2="23.70" y2="574.76" stroke="#3a3a3a" stroke-width="0.5"/>
<line x1="195.10" y1="574.76" x2="194.00" y2="574.76" stroke="#3a3a3a" stroke-width="0.5"/>
<line x1="22.60" y1="572.46" x2="23.70" y2="572.46" stroke="#3a3a3a" stroke-width="0.5"/>
<line x1="195.10" y1="572.46" x2="194.00" y2="572.46" stroke="#3a3a3a" stroke-width="0.5"/>
<line x1="22.60" y1="556.85" x2="23.70" y2="556.85" stroke="#3a3a3a" stroke-width="0.5"/>
<line x1="195.10" y1="556.85" x2="194.00" y2="556.85" stroke="#3a3a3a" stroke-width="0.5"/>
<line x1="22.60" y1="548.93" x2="23.70" y2="548.93" stroke="#3a3a3a" stroke-width="0.5"/>
<line x1="195.10" y1="548.93" x2="194.00" y2="548.93" stroke="#3a3a3a" stroke-width="0.5"/>
<line x1="22.60" y1="543.31" x2="23.70" y2="543.31" stroke="#3a3a3a" stroke-width="0.5"/>
<line x1="195.10" y1="543.31" x2="194.00" y2="543.31" stroke="#3a3a3a" stroke-width="0.5"/>
<line x1="22.60" y1="538.95" x2="23.70" y2="538.95" stroke="#3a3a3a" stroke-width="0.5"/>
<line x1="195.10" y1="538.95" x2="194.00" y2="538.95" stroke="#3a3a3a" stroke-width="0.5"/>
<line x1="22.60" y1="535.38" x2="23.70" y2="535.38" stroke="#3a3a3a" stroke-width="0.5"/>
<line x1="195.10" y1="535.38" x2="194.00" y2="535.38" stroke="#3a3a3a" stroke-width="0.5"/>
<line x1="22.60" y1="532.37" x2="23.70" y2="532.37" stroke="#3a3a3a" stroke-width="0.5"/>
<line x1="195.10" y1="532.37" x2="194.00" y2="532.37" stroke="#3a3a3a" stroke-width="0.5"/>
<line x1="22.60" y1="529.76" x2="23.70" y2="529.76" stroke="#3a3a3a" stroke-width="0.5"/>
<line x1="195.10" y1="529.76" x2="194.00" y2="529.76" stroke="#3a3a3a" stroke-width="0.5"/>
<line x1="22.60" y1="527.46" x2="23.70" y2="527.46" stroke="#3a3a3a" stroke-width="0.5"/>
<line x1="195.10" y1="527.46" x2="194.00" y2="527.46" stroke="#3a3a3a" stroke-width="0.5"/>
<line x1="22.60" y1="511.85" x2="23.70" y2="511.85" stroke="#3a3a3a" stroke-width="0.5"/>
<line x1="195.10" y1="511.85" x2="194.00" y2="511.85" stroke="#3a3a3a" stroke-width="0.5"/>
<line x1="22.60" y1="503.93" x2="23.70" y2="503.93" stroke="#3a3a3a" stroke-width="0.5"/>
<line x1="195.10" y1="503.93" x2="194.00" y2="503.93" stroke="#3a3a3a" stroke-width="0.5"/>
<text transform="translate(108.85,494.05) scale(0.640,0.991)" font-family="Liberation Sans" font-size="10.00" text-anchor="middle" fill="#1a1a1a" font-weight="bold">F7</text>
<text transform="translate(10.00,594.90) scale(0.76,0.991) rotate(-90)" font-family="Liberation Sans" font-size="8.45" text-anchor="middle" fill="#3c3c3c" stroke="#3c3c3c" stroke-width="0.15">Best Score obtained so far</text>
<text transform="translate(108.85,713.49) scale(0.660,0.991)" font-family="Liberation Sans" font-size="8.40" text-anchor="middle" fill="#3c3c3c" font-weight="normal" stroke="#3c3c3c" stroke-width="0.18">FE</text>
<text transform="translate(192.80,714.08) scale(0.620,0.991)" font-family="Liberation Sans" font-size="7.60" text-anchor="end" fill="#3c3c3c" font-weight="normal" stroke="#3c3c3c" stroke-width="0.18">10</text>
<text transform="translate(185.90,714.08) scale(0.750,0.991)" font-family="Liberation Sans" font-size="7.20" text-anchor="end" fill="#3c3c3c" font-weight="normal" stroke="#3c3c3c" stroke-width="0.18">&#215;</text>
<text transform="translate(193.20,710.91) scale(0.550,0.991)" font-family="Liberation Sans" font-size="5.20" text-anchor="start" fill="#3c3c3c" font-weight="normal" stroke="#3c3c3c" stroke-width="0.18">4</text>
<text x="106.20" y="729.50" font-family="Liberation Serif" font-size="14.3" text-anchor="middle" fill="#111">( g )</text>
<rect x="160.20" y="506.00" width="30.20" height="75.70" fill="#fff" stroke="#4a4a4a" stroke-width="0.7"/>
<line x1="161.90" y1="511.57" x2="173.60" y2="511.57" stroke="#BDB82C" stroke-width="1.5"/>
<text transform="translate(174.80,513.75) scale(0.780,0.991)" font-family="Liberation Sans" font-size="6.20" text-anchor="start" fill="#222" font-weight="normal" stroke="#222" stroke-width="0.18">WOA</text>
<line x1="161.90" y1="520.86" x2="173.60" y2="520.86" stroke="#D822D8" stroke-width="1.5"/>
<text transform="translate(174.80,523.04) scale(0.780,0.991)" font-family="Liberation Sans" font-size="6.20" text-anchor="start" fill="#222" font-weight="normal" stroke="#222" stroke-width="0.18">SCA</text>
<line x1="161.90" y1="530.15" x2="173.60" y2="530.15" stroke="#38E038" stroke-width="1.5"/>
<text transform="translate(174.80,532.33) scale(0.780,0.991)" font-family="Liberation Sans" font-size="6.20" text-anchor="start" fill="#222" font-weight="normal" stroke="#222" stroke-width="0.18">TSA</text>
<line x1="161.90" y1="539.44" x2="173.60" y2="539.44" stroke="#111111" stroke-width="1.5"/>
<text transform="translate(174.80,541.62) scale(0.780,0.991)" font-family="Liberation Sans" font-size="6.20" text-anchor="start" fill="#222" font-weight="normal" stroke="#222" stroke-width="0.18">SMA</text>
<line x1="161.90" y1="548.73" x2="173.60" y2="548.73" stroke="#2DBDBD" stroke-width="1.5"/>
<text transform="translate(174.80,550.91) scale(0.780,0.991)" font-family="Liberation Sans" font-size="6.20" text-anchor="start" fill="#222" font-weight="normal" stroke="#222" stroke-width="0.18">HHO</text>
<line x1="161.90" y1="558.01" x2="173.60" y2="558.01" stroke="#9A88C4" stroke-width="1.5"/>
<text transform="translate(174.80,560.19) scale(0.780,0.991)" font-family="Liberation Sans" font-size="6.20" text-anchor="start" fill="#222" font-weight="normal" stroke="#222" stroke-width="0.18">RUN</text>
<line x1="161.90" y1="567.30" x2="173.60" y2="567.30" stroke="#1616D0" stroke-width="1.5"/>
<text transform="translate(174.80,569.48) scale(0.780,0.991)" font-family="Liberation Sans" font-size="6.20" text-anchor="start" fill="#222" font-weight="normal" stroke="#222" stroke-width="0.18">AHA</text>
<line x1="161.90" y1="576.59" x2="173.60" y2="576.59" stroke="#DC2222" stroke-width="1.5"/>
<text transform="translate(174.80,578.77) scale(0.780,0.991)" font-family="Liberation Sans" font-size="6.20" text-anchor="start" fill="#222" font-weight="normal" stroke="#222" stroke-width="0.18">mAHA</text>
<clipPath id="cF8"><rect x="263.40" y="498.10" width="175.90" height="192.80"/></clipPath>
<rect x="264.30" y="499.00" width="174.10" height="191.00" fill="none" stroke="#3a3a3a" stroke-width="0.8"/>
<g clip-path="url(#cF8)" fill="none" stroke-width="1.45" stroke-linejoin="round" stroke-linecap="butt">
<polyline points="264.3,499.2 264.3,512.3 264.8,560.0 265.5,610.0 266.1,634.4 269.3,649.5 273.0,659.5 279.3,665.1 288.1,668.3 349.0,670.1 438.4,670.1" stroke="#BDB82C"/>
<polyline points="265.5,514.2 266.1,521.1 266.1,591.4 268.0,592.6 269.3,596.8 271.2,601.8 271.8,602.4 286.9,602.4 288.1,606.8 288.1,626.9 292.5,627.5 293.1,638.2 294.4,640.1 294.4,648.8 296.9,649.5 298.2,654.5 306.3,654.5 306.9,658.9 321.4,658.9 321.4,672.0 325.8,672.7 349.0,672.9 351.6,673.2 352.3,675.8 365.4,676.1 366.1,677.8 382.5,677.8 382.9,683.0 438.4,683.0" stroke="#D822D8"/>
<polyline points="264.5,560.0 265.5,618.1 268.0,631.9 271.8,639.4 278.1,643.8 288.1,644.4 349.0,645.6 427.8,646.2 438.4,646.9" stroke="#38E038"/>
<polyline points="264.3,515.0 264.5,521.1 266.8,546.2 269.3,565.0 271.2,583.8 272.4,596.0 274.3,605.5 276.8,628.1 279.3,644.4 283.1,655.7 288.1,667.0 293.1,672.0 298.2,675.2 304.4,675.8 305.7,680.8 308.2,682.3 325.8,683.1 349.0,683.4 381.9,684.1 387.8,684.7 389.1,687.6 391.0,689.6 438.4,689.9" stroke="#111111"/>
<polyline points="264.3,512.3 264.3,518.6 264.8,560.0 265.5,600.5 269.3,611.8 275.6,625.6 281.8,635.7 288.1,645.7 294.4,653.2 300.7,660.8 306.9,664.5 313.2,668.3 319.5,673.3 332.1,677.1 349.0,679.1 362.1,680.8 381.9,681.7 416.0,682.4 420.0,685.0 425.2,687.0 430.5,687.9 438.4,688.3" stroke="#2DBDBD"/>
<polyline points="264.3,518.6 264.3,542.4 265.5,600.0 267.4,636.9 269.3,662.0 273.0,673.3 278.1,679.6 285.6,684.6 294.4,687.7 304.4,689.0 320.0,689.5 438.4,689.6" stroke="#9A88C4" stroke-width="1.2"/>
<polyline points="264.3,542.4 264.3,556.2 265.5,630.6 268.0,668.3 270.5,680.8 275.6,687.1 283.1,689.0 300.0,689.6 438.4,689.7" stroke="#1616D0"/>
<polyline points="264.3,556.2 264.5,680.8 266.1,688.4 270.5,689.6 438.4,689.9" stroke="#DC2222"/>
<polyline points="264.3,518.6 264.3,542.4" stroke="#9A88C4"/>
</g>
<line x1="293.32" y1="690.00" x2="293.32" y2="688.12" stroke="#3a3a3a" stroke-width="0.6"/>
<line x1="293.32" y1="499.00" x2="293.32" y2="500.88" stroke="#3a3a3a" stroke-width="0.6"/>
<text transform="translate(293.32,700.86) scale(0.595,0.987)" font-family="Liberation Sans" font-size="8.10" text-anchor="middle" fill="#3c3c3c" font-weight="normal" stroke="#3c3c3c" stroke-width="0.18">0.5</text>
<line x1="322.33" y1="690.00" x2="322.33" y2="688.12" stroke="#3a3a3a" stroke-width="0.6"/>
<line x1="322.33" y1="499.00" x2="322.33" y2="500.88" stroke="#3a3a3a" stroke-width="0.6"/>
<text transform="translate(322.33,700.86) scale(0.595,0.987)" font-family="Liberation Sans" font-size="8.10" text-anchor="middle" fill="#3c3c3c" font-weight="normal" stroke="#3c3c3c" stroke-width="0.18">1</text>
<line x1="351.35" y1="690.00" x2="351.35" y2="688.12" stroke="#3a3a3a" stroke-width="0.6"/>
<line x1="351.35" y1="499.00" x2="351.35" y2="500.88" stroke="#3a3a3a" stroke-width="0.6"/>
<text transform="translate(351.35,700.86) scale(0.595,0.987)" font-family="Liberation Sans" font-size="8.10" text-anchor="middle" fill="#3c3c3c" font-weight="normal" stroke="#3c3c3c" stroke-width="0.18">1.5</text>
<line x1="380.37" y1="690.00" x2="380.37" y2="688.12" stroke="#3a3a3a" stroke-width="0.6"/>
<line x1="380.37" y1="499.00" x2="380.37" y2="500.88" stroke="#3a3a3a" stroke-width="0.6"/>
<text transform="translate(380.37,700.86) scale(0.595,0.987)" font-family="Liberation Sans" font-size="8.10" text-anchor="middle" fill="#3c3c3c" font-weight="normal" stroke="#3c3c3c" stroke-width="0.18">2</text>
<line x1="409.38" y1="690.00" x2="409.38" y2="688.12" stroke="#3a3a3a" stroke-width="0.6"/>
<line x1="409.38" y1="499.00" x2="409.38" y2="500.88" stroke="#3a3a3a" stroke-width="0.6"/>
<text transform="translate(409.38,700.86) scale(0.595,0.987)" font-family="Liberation Sans" font-size="8.10" text-anchor="middle" fill="#3c3c3c" font-weight="normal" stroke="#3c3c3c" stroke-width="0.18">2.5</text>
<line x1="438.40" y1="690.00" x2="438.40" y2="688.12" stroke="#3a3a3a" stroke-width="0.6"/>
<line x1="438.40" y1="499.00" x2="438.40" y2="500.88" stroke="#3a3a3a" stroke-width="0.6"/>
<text transform="translate(438.40,700.86) scale(0.595,0.987)" font-family="Liberation Sans" font-size="8.10" text-anchor="middle" fill="#3c3c3c" font-weight="normal" stroke="#3c3c3c" stroke-width="0.18">3</text>
<line x1="264.30" y1="508.30" x2="266.20" y2="508.30" stroke="#3a3a3a" stroke-width="0.6"/>
<line x1="438.40" y1="508.30" x2="436.50" y2="508.30" stroke="#3a3a3a" stroke-width="0.6"/>
<text transform="translate(262.50,511.16) scale(0.630,0.987)" font-family="Liberation Sans" font-size="8.10" text-anchor="end" fill="#3c3c3c" font-weight="normal" stroke="#3c3c3c" stroke-width="0.18">4400</text>
<line x1="264.30" y1="521.60" x2="266.20" y2="521.60" stroke="#3a3a3a" stroke-width="0.6"/>
<line x1="438.40" y1="521.60" x2="436.50" y2="521.60" stroke="#3a3a3a" stroke-width="0.6"/>
<text transform="translate(262.50,524.46) scale(0.630,0.987)" font-family="Liberation Sans" font-size="8.10" text-anchor="end" fill="#3c3c3c" font-weight="normal" stroke="#3c3c3c" stroke-width="0.18">4200</text>
<line x1="264.30" y1="535.20" x2="266.20" y2="535.20" stroke="#3a3a3a" stroke-width="0.6"/>
<line x1="438.40" y1="535.20" x2="436.50" y2="535.20" stroke="#3a3a3a" stroke-width="0.6"/>
<text transform="translate(262.50,538.06) scale(0.630,0.987)" font-family="Liberation Sans" font-size="8.10" text-anchor="end" fill="#3c3c3c" font-weight="normal" stroke="#3c3c3c" stroke-width="0.18">4000</text>
<line x1="264.30" y1="550.10" x2="266.20" y2="550.10" stroke="#3a3a3a" stroke-width="0.6"/>
<line x1="438.40" y1="550.10" x2="436.50" y2="550.10" stroke="#3a3a3a" stroke-width="0.6"/>
<text transform="translate(262.50,552.96) scale(0.630,0.987)" font-family="Liberation Sans" font-size="8.10" text-anchor="end" fill="#3c3c3c" font-weight="normal" stroke="#3c3c3c" stroke-width="0.18">3800</text>
<line x1="264.30" y1="565.40" x2="266.20" y2="565.40" stroke="#3a3a3a" stroke-width="0.6"/>
<line x1="438.40" y1="565.40" x2="436.50" y2="565.40" stroke="#3a3a3a" stroke-width="0.6"/>
<text transform="translate(262.50,568.26) scale(0.630,0.987)" font-family="Liberation Sans" font-size="8.10" text-anchor="end" fill="#3c3c3c" font-weight="normal" stroke="#3c3c3c" stroke-width="0.18">3600</text>
<line x1="264.30" y1="581.60" x2="266.20" y2="581.60" stroke="#3a3a3a" stroke-width="0.6"/>
<line x1="438.40" y1="581.60" x2="436.50" y2="581.60" stroke="#3a3a3a" stroke-width="0.6"/>
<text transform="translate(262.50,584.46) scale(0.630,0.987)" font-family="Liberation Sans" font-size="8.10" text-anchor="end" fill="#3c3c3c" font-weight="normal" stroke="#3c3c3c" stroke-width="0.18">3400</text>
<line x1="264.30" y1="598.30" x2="266.20" y2="598.30" stroke="#3a3a3a" stroke-width="0.6"/>
<line x1="438.40" y1="598.30" x2="436.50" y2="598.30" stroke="#3a3a3a" stroke-width="0.6"/>
<text transform="translate(262.50,601.16) scale(0.630,0.987)" font-family="Liberation Sans" font-size="8.10" text-anchor="end" fill="#3c3c3c" font-weight="normal" stroke="#3c3c3c" stroke-width="0.18">3200</text>
<line x1="264.30" y1="616.20" x2="266.20" y2="616.20" stroke="#3a3a3a" stroke-width="0.6"/>
<line x1="438.40" y1="616.20" x2="436.50" y2="616.20" stroke="#3a3a3a" stroke-width="0.6"/>
<text transform="translate(262.50,619.06) scale(0.630,0.987)" font-family="Liberation Sans" font-size="8.10" text-anchor="end" fill="#3c3c3c" font-weight="normal" stroke="#3c3c3c" stroke-width="0.18">3000</text>
<line x1="264.30" y1="635.00" x2="266.20" y2="635.00" stroke="#3a3a3a" stroke-width="0.6"/>
<line x1="438.40" y1="635.00" x2="436.50" y2="635.00" stroke="#3a3a3a" stroke-width="0.6"/>
<text transform="translate(262.50,637.86) scale(0.630,0.987)" font-family="Liberation Sans" font-size="8.10" text-anchor="end" fill="#3c3c3c" font-weight="normal" stroke="#3c3c3c" stroke-width="0.18">2800</text>
<line x1="264.30" y1="656.70" x2="266.20" y2="656.70" stroke="#3a3a3a" stroke-width="0.6"/>
<line x1="438.40" y1="656.70" x2="436.50" y2="656.70" stroke="#3a3a3a" stroke-width="0.6"/>
<text transform="translate(262.50,659.56) scale(0.630,0.987)" font-family="Liberation Sans" font-size="8.10" text-anchor="end" fill="#3c3c3c" font-weight="normal" stroke="#3c3c3c" stroke-width="0.18">2600</text>
<line x1="264.30" y1="679.30" x2="266.20" y2="679.30" stroke="#3a3a3a" stroke-width="0.6"/>
<line x1="438.40" y1="679.30" x2="436.50" y2="679.30" stroke="#3a3a3a" stroke-width="0.6"/>
<text transform="translate(262.50,682.16) scale(0.630,0.987)" font-family="Liberation Sans" font-size="8.10" text-anchor="end" fill="#3c3c3c" font-weight="normal" stroke="#3c3c3c" stroke-width="0.18">2400</text>
<text transform="translate(351.35,494.06) scale(0.640,0.987)" font-family="Liberation Sans" font-size="10.00" text-anchor="middle" fill="#1a1a1a" font-weight="bold">F8</text>
<text transform="translate(247.00,593.90) scale(0.76,0.987) rotate(-90)" font-family="Liberation Sans" font-size="8.45" text-anchor="middle" fill="#3c3c3c" stroke="#3c3c3c" stroke-width="0.15">Best Score obtained so far</text>
<text transform="translate(351.35,712.70) scale(0.660,0.987)" font-family="Liberation Sans" font-size="8.40" text-anchor="middle" fill="#3c3c3c" font-weight="normal" stroke="#3c3c3c" stroke-width="0.18">FE</text>
<text transform="translate(436.10,713.30) scale(0.620,0.987)" font-family="Liberation Sans" font-size="7.60" text-anchor="end" fill="#3c3c3c" font-weight="normal" stroke="#3c3c3c" stroke-width="0.18">10</text>
<text transform="translate(429.20,713.30) scale(0.750,0.987)" font-family="Liberation Sans" font-size="7.20" text-anchor="end" fill="#3c3c3c" font-weight="normal" stroke="#3c3c3c" stroke-width="0.18">&#215;</text>
<text transform="translate(436.50,710.14) scale(0.550,0.987)" font-family="Liberation Sans" font-size="5.20" text-anchor="start" fill="#3c3c3c" font-weight="normal" stroke="#3c3c3c" stroke-width="0.18">4</text>
<text x="347.00" y="729.50" font-family="Liberation Serif" font-size="14.3" text-anchor="middle" fill="#111">( h )</text>
<rect x="403.10" y="505.80" width="30.60" height="75.70" fill="#fff" stroke="#4a4a4a" stroke-width="0.7"/>
<line x1="404.80" y1="511.37" x2="416.50" y2="511.37" stroke="#BDB82C" stroke-width="1.5"/>
<text transform="translate(417.70,513.54) scale(0.780,0.987)" font-family="Liberation Sans" font-size="6.20" text-anchor="start" fill="#222" font-weight="normal" stroke="#222" stroke-width="0.18">WOA</text>
<line x1="404.80" y1="520.66" x2="416.50" y2="520.66" stroke="#D822D8" stroke-width="1.5"/>
<text transform="translate(417.70,522.83) scale(0.780,0.987)" font-family="Liberation Sans" font-size="6.20" text-anchor="start" fill="#222" font-weight="normal" stroke="#222" stroke-width="0.18">SCA</text>
<line x1="404.80" y1="529.95" x2="416.50" y2="529.95" stroke="#38E038" stroke-width="1.5"/>
<text transform="translate(417.70,532.12) scale(0.780,0.987)" font-family="Liberation Sans" font-size="6.20" text-anchor="start" fill="#222" font-weight="normal" stroke="#222" stroke-width="0.18">TSA</text>
<line x1="404.80" y1="539.24" x2="416.50" y2="539.24" stroke="#111111" stroke-width="1.5"/>
<text transform="translate(417.70,541.41) scale(0.780,0.987)" font-family="Liberation Sans" font-size="6.20" text-anchor="start" fill="#222" font-weight="normal" stroke="#222" stroke-width="0.18">SMA</text>
<line x1="404.80" y1="548.53" x2="416.50" y2="548.53" stroke="#2DBDBD" stroke-width="1.5"/>
<text transform="translate(417.70,550.70) scale(0.780,0.987)" font-family="Liberation Sans" font-size="6.20" text-anchor="start" fill="#222" font-weight="normal" stroke="#222" stroke-width="0.18">HHO</text>
<line x1="404.80" y1="557.81" x2="416.50" y2="557.81" stroke="#9A88C4" stroke-width="1.5"/>
<text transform="translate(417.70,559.99) scale(0.780,0.987)" font-family="Liberation Sans" font-size="6.20" text-anchor="start" fill="#222" font-weight="normal" stroke="#222" stroke-width="0.18">RUN</text>
<line x1="404.80" y1="567.10" x2="416.50" y2="567.10" stroke="#1616D0" stroke-width="1.5"/>
<text transform="translate(417.70,569.27) scale(0.780,0.987)" font-family="Liberation Sans" font-size="6.20" text-anchor="start" fill="#222" font-weight="normal" stroke="#222" stroke-width="0.18">AHA</text>
<line x1="404.80" y1="576.39" x2="416.50" y2="576.39" stroke="#DC2222" stroke-width="1.5"/>
<text transform="translate(417.70,578.56) scale(0.780,0.987)" font-family="Liberation Sans" font-size="6.20" text-anchor="start" fill="#222" font-weight="normal" stroke="#222" stroke-width="0.18">mAHA</text>
<clipPath id="cF9"><rect x="503.40" y="497.40" width="173.90" height="187.90"/></clipPath>
<rect x="504.30" y="498.30" width="172.10" height="186.10" fill="none" stroke="#3a3a3a" stroke-width="0.8"/>
<g clip-path="url(#cF9)" fill="none" stroke-width="1.45" stroke-linejoin="round" stroke-linecap="butt">
<polyline points="504.6,560.0 505.2,590.0 506.1,602.5 509.3,610.1 515.6,615.1 528.1,618.9 540.7,620.1 559.5,620.7 589.0,622.6 676.4,622.6" stroke="#BDB82C"/>
<polyline points="504.6,560.0 505.5,590.0 506.8,601.3 528.1,601.5 528.7,603.6 546.9,603.6 547.6,605.7 553.2,605.7 553.8,619.3 676.4,619.2" stroke="#D822D8"/>
<polyline points="504.6,560.0 505.5,582.0 506.1,588.8 509.3,595.0 514.3,598.2 528.1,601.3 546.9,603.8 565.8,605.3 589.0,606.0 628.4,606.4 676.4,606.8" stroke="#38E038"/>
<polyline points="504.3,518.6 504.8,570.0 505.5,597.5 508.0,606.3 513.0,610.7 521.8,613.8 528.1,616.3 534.4,618.2 538.8,620.1 540.7,623.9 546.9,626.4 559.5,628.9 572.1,630.2 589.0,630.6 676.4,630.7" stroke="#111111"/>
<polyline points="504.6,560.0 505.5,573.8 508.0,578.8 518.1,585.1 528.1,587.6 534.4,589.0 546.9,591.9 559.5,594.4 572.1,596.3 589.0,598.6 602.1,600.5 615.3,602.5 628.4,604.7 641.6,606.4 654.7,607.1 676.4,607.1" stroke="#2DBDBD"/>
<polyline points="504.3,518.6 504.3,521.0 504.8,570.0 506.1,600.0 510.5,605.1 515.6,608.8 521.8,612.0 528.1,616.3 531.9,621.4 536.9,627.6 543.2,630.2 550.7,633.3 559.5,633.9 589.0,634.4 676.4,634.4" stroke="#9A88C4" stroke-width="1.2"/>
<polyline points="504.3,521.0 504.3,552.5 505.5,590.0 508.0,615.1 511.8,633.9 515.6,649.0 520.6,661.5 528.1,665.9 538.2,668.4 553.2,669.3 676.4,669.2" stroke="#1616D0"/>
<polyline points="504.3,552.5 504.9,590.0 506.1,615.1 508.0,640.2 510.5,656.5 515.6,667.8 521.8,670.3 540.7,670.9 578.3,670.9 580.8,672.8 584.6,673.8 589.0,676.1 595.6,678.0 633.7,678.0 636.3,680.4 664.6,680.9 666.5,683.6 670.5,684.4 676.4,684.4" stroke="#DC2222"/>
</g>
<line x1="532.98" y1="684.40" x2="532.98" y2="682.57" stroke="#3a3a3a" stroke-width="0.6"/>
<line x1="532.98" y1="498.30" x2="532.98" y2="500.13" stroke="#3a3a3a" stroke-width="0.6"/>
<text transform="translate(532.98,694.98) scale(0.595,0.962)" font-family="Liberation Sans" font-size="8.10" text-anchor="middle" fill="#3c3c3c" font-weight="normal" stroke="#3c3c3c" stroke-width="0.18">0.5</text>
<line x1="561.67" y1="684.40" x2="561.67" y2="682.57" stroke="#3a3a3a" stroke-width="0.6"/>
<line x1="561.67" y1="498.30" x2="561.67" y2="500.13" stroke="#3a3a3a" stroke-width="0.6"/>
<text transform="translate(561.67,694.98) scale(0.595,0.962)" font-family="Liberation Sans" font-size="8.10" text-anchor="middle" fill="#3c3c3c" font-weight="normal" stroke="#3c3c3c" stroke-width="0.18">1</text>
<line x1="590.35" y1="684.40" x2="590.35" y2="682.57" stroke="#3a3a3a" stroke-width="0.6"/>
<line x1="590.35" y1="498.30" x2="590.35" y2="500.13" stroke="#3a3a3a" stroke-width="0.6"/>
<text transform="translate(590.35,694.98) scale(0.595,0.962)" font-family="Liberation Sans" font-size="8.10" text-anchor="middle" fill="#3c3c3c" font-weight="normal" stroke="#3c3c3c" stroke-width="0.18">1.5</text>
<line x1="619.03" y1="684.40" x2="619.03" y2="682.57" stroke="#3a3a3a" stroke-width="0.6"/>
<line x1="619.03" y1="498.30" x2="619.03" y2="500.13" stroke="#3a3a3a" stroke-width="0.6"/>
<text transform="translate(619.03,694.98) scale(0.595,0.962)" font-family="Liberation Sans" font-size="8.10" text-anchor="middle" fill="#3c3c3c" font-weight="normal" stroke="#3c3c3c" stroke-width="0.18">2</text>
<line x1="647.72" y1="684.40" x2="647.72" y2="682.57" stroke="#3a3a3a" stroke-width="0.6"/>
<line x1="647.72" y1="498.30" x2="647.72" y2="500.13" stroke="#3a3a3a" stroke-width="0.6"/>
<text transform="translate(647.72,694.98) scale(0.595,0.962)" font-family="Liberation Sans" font-size="8.10" text-anchor="middle" fill="#3c3c3c" font-weight="normal" stroke="#3c3c3c" stroke-width="0.18">2.5</text>
<line x1="676.40" y1="684.40" x2="676.40" y2="682.57" stroke="#3a3a3a" stroke-width="0.6"/>
<line x1="676.40" y1="498.30" x2="676.40" y2="500.13" stroke="#3a3a3a" stroke-width="0.6"/>
<text transform="translate(676.40,694.98) scale(0.595,0.962)" font-family="Liberation Sans" font-size="8.10" text-anchor="middle" fill="#3c3c3c" font-weight="normal" stroke="#3c3c3c" stroke-width="0.18">3</text>
<line x1="504.30" y1="516.00" x2="506.20" y2="516.00" stroke="#3a3a3a" stroke-width="0.6"/>
<line x1="676.40" y1="516.00" x2="674.50" y2="516.00" stroke="#3a3a3a" stroke-width="0.6"/>
<text transform="translate(502.50,518.79) scale(0.630,0.962)" font-family="Liberation Sans" font-size="8.10" text-anchor="end" fill="#3c3c3c" font-weight="normal" stroke="#3c3c3c" stroke-width="0.18">3050</text>
<line x1="504.30" y1="534.00" x2="506.20" y2="534.00" stroke="#3a3a3a" stroke-width="0.6"/>
<line x1="676.40" y1="534.00" x2="674.50" y2="534.00" stroke="#3a3a3a" stroke-width="0.6"/>
<text transform="translate(502.50,536.79) scale(0.630,0.962)" font-family="Liberation Sans" font-size="8.10" text-anchor="end" fill="#3c3c3c" font-weight="normal" stroke="#3c3c3c" stroke-width="0.18">3000</text>
<line x1="504.30" y1="553.40" x2="506.20" y2="553.40" stroke="#3a3a3a" stroke-width="0.6"/>
<line x1="676.40" y1="553.40" x2="674.50" y2="553.40" stroke="#3a3a3a" stroke-width="0.6"/>
<text transform="translate(502.50,556.19) scale(0.630,0.962)" font-family="Liberation Sans" font-size="8.10" text-anchor="end" fill="#3c3c3c" font-weight="normal" stroke="#3c3c3c" stroke-width="0.18">2950</text>
<line x1="504.30" y1="572.80" x2="506.20" y2="572.80" stroke="#3a3a3a" stroke-width="0.6"/>
<line x1="676.40" y1="572.80" x2="674.50" y2="572.80" stroke="#3a3a3a" stroke-width="0.6"/>
<text transform="translate(502.50,575.59) scale(0.630,0.962)" font-family="Liberation Sans" font-size="8.10" text-anchor="end" fill="#3c3c3c" font-weight="normal" stroke="#3c3c3c" stroke-width="0.18">2900</text>
<line x1="504.30" y1="592.20" x2="506.20" y2="592.20" stroke="#3a3a3a" stroke-width="0.6"/>
<line x1="676.40" y1="592.20" x2="674.50" y2="592.20" stroke="#3a3a3a" stroke-width="0.6"/>
<text transform="translate(502.50,594.99) scale(0.630,0.962)" font-family="Liberation Sans" font-size="8.10" text-anchor="end" fill="#3c3c3c" font-weight="normal" stroke="#3c3c3c" stroke-width="0.18">2850</text>
<line x1="504.30" y1="611.90" x2="506.20" y2="611.90" stroke="#3a3a3a" stroke-width="0.6"/>
<line x1="676.40" y1="611.90" x2="674.50" y2="611.90" stroke="#3a3a3a" stroke-width="0.6"/>
<text transform="translate(502.50,614.69) scale(0.630,0.962)" font-family="Liberation Sans" font-size="8.10" text-anchor="end" fill="#3c3c3c" font-weight="normal" stroke="#3c3c3c" stroke-width="0.18">2800</text>
<line x1="504.30" y1="631.60" x2="506.20" y2="631.60" stroke="#3a3a3a" stroke-width="0.6"/>
<line x1="676.40" y1="631.60" x2="674.50" y2="631.60" stroke="#3a3a3a" stroke-width="0.6"/>
<text transform="translate(502.50,634.39) scale(0.630,0.962)" font-family="Liberation Sans" font-size="8.10" text-anchor="end" fill="#3c3c3c" font-weight="normal" stroke="#3c3c3c" stroke-width="0.18">2750</text>
<line x1="504.30" y1="652.50" x2="506.20" y2="652.50" stroke="#3a3a3a" stroke-width="0.6"/>
<line x1="676.40" y1="652.50" x2="674.50" y2="652.50" stroke="#3a3a3a" stroke-width="0.6"/>
<text transform="translate(502.50,655.29) scale(0.630,0.962)" font-family="Liberation Sans" font-size="8.10" text-anchor="end" fill="#3c3c3c" font-weight="normal" stroke="#3c3c3c" stroke-width="0.18">2700</text>
<line x1="504.30" y1="673.30" x2="506.20" y2="673.30" stroke="#3a3a3a" stroke-width="0.6"/>
<line x1="676.40" y1="673.30" x2="674.50" y2="673.30" stroke="#3a3a3a" stroke-width="0.6"/>
<text transform="translate(502.50,676.09) scale(0.630,0.962)" font-family="Liberation Sans" font-size="8.10" text-anchor="end" fill="#3c3c3c" font-weight="normal" stroke="#3c3c3c" stroke-width="0.18">2650</text>
<text transform="translate(590.35,493.49) scale(0.640,0.962)" font-family="Liberation Sans" font-size="10.00" text-anchor="middle" fill="#1a1a1a" font-weight="bold">F9</text>
<text transform="translate(488.40,591.40) scale(0.76,0.962) rotate(-90)" font-family="Liberation Sans" font-size="8.45" text-anchor="middle" fill="#3c3c3c" stroke="#3c3c3c" stroke-width="0.15">Best Score obtained so far</text>
<text transform="translate(590.35,706.52) scale(0.660,0.962)" font-family="Liberation Sans" font-size="8.40" text-anchor="middle" fill="#3c3c3c" font-weight="normal" stroke="#3c3c3c" stroke-width="0.18">FE</text>
<text transform="translate(674.10,707.10) scale(0.620,0.962)" font-family="Liberation Sans" font-size="7.60" text-anchor="end" fill="#3c3c3c" font-weight="normal" stroke="#3c3c3c" stroke-width="0.18">10</text>
<text transform="translate(667.20,707.10) scale(0.750,0.962)" font-family="Liberation Sans" font-size="7.20" text-anchor="end" fill="#3c3c3c" font-weight="normal" stroke="#3c3c3c" stroke-width="0.18">&#215;</text>
<text transform="translate(674.50,704.02) scale(0.550,0.962)" font-family="Liberation Sans" font-size="5.20" text-anchor="start" fill="#3c3c3c" font-weight="normal" stroke="#3c3c3c" stroke-width="0.18">4</text>
<text x="587.30" y="740.00" font-family="Liberation Serif" font-size="14.3" text-anchor="middle" fill="#111">( i )</text>
<rect x="641.30" y="505.60" width="30.40" height="73.40" fill="#fff" stroke="#4a4a4a" stroke-width="0.7"/>
<line x1="643.00" y1="511.00" x2="654.70" y2="511.00" stroke="#BDB82C" stroke-width="1.5"/>
<text transform="translate(655.90,513.12) scale(0.780,0.962)" font-family="Liberation Sans" font-size="6.20" text-anchor="start" fill="#222" font-weight="normal" stroke="#222" stroke-width="0.18">WOA</text>
<line x1="643.00" y1="520.01" x2="654.70" y2="520.01" stroke="#D822D8" stroke-width="1.5"/>
<text transform="translate(655.90,522.13) scale(0.780,0.962)" font-family="Liberation Sans" font-size="6.20" text-anchor="start" fill="#222" font-weight="normal" stroke="#222" stroke-width="0.18">SCA</text>
<line x1="643.00" y1="529.02" x2="654.70" y2="529.02" stroke="#38E038" stroke-width="1.5"/>
<text transform="translate(655.90,531.13) scale(0.780,0.962)" font-family="Liberation Sans" font-size="6.20" text-anchor="start" fill="#222" font-weight="normal" stroke="#222" stroke-width="0.18">TSA</text>
<line x1="643.00" y1="538.02" x2="654.70" y2="538.02" stroke="#111111" stroke-width="1.5"/>
<text transform="translate(655.90,540.14) scale(0.780,0.962)" font-family="Liberation Sans" font-size="6.20" text-anchor="start" fill="#222" font-weight="normal" stroke="#222" stroke-width="0.18">SMA</text>
<line x1="643.00" y1="547.03" x2="654.70" y2="547.03" stroke="#2DBDBD" stroke-width="1.5"/>
<text transform="translate(655.90,549.14) scale(0.780,0.962)" font-family="Liberation Sans" font-size="6.20" text-anchor="start" fill="#222" font-weight="normal" stroke="#222" stroke-width="0.18">HHO</text>
<line x1="643.00" y1="556.03" x2="654.70" y2="556.03" stroke="#9A88C4" stroke-width="1.5"/>
<text transform="translate(655.90,558.15) scale(0.780,0.962)" font-family="Liberation Sans" font-size="6.20" text-anchor="start" fill="#222" font-weight="normal" stroke="#222" stroke-width="0.18">RUN</text>
<line x1="643.00" y1="565.04" x2="654.70" y2="565.04" stroke="#1616D0" stroke-width="1.5"/>
<text transform="translate(655.90,567.16) scale(0.780,0.962)" font-family="Liberation Sans" font-size="6.20" text-anchor="start" fill="#222" font-weight="normal" stroke="#222" stroke-width="0.18">AHA</text>
<line x1="643.00" y1="574.05" x2="654.70" y2="574.05" stroke="#DC2222" stroke-width="1.5"/>
<text transform="translate(655.90,576.16) scale(0.780,0.962)" font-family="Liberation Sans" font-size="6.20" text-anchor="start" fill="#222" font-weight="normal" stroke="#222" stroke-width="0.18">mAHA</text>
<clipPath id="cF10"><rect x="21.70" y="758.30" width="174.30" height="174.40"/></clipPath>
<rect x="22.60" y="759.20" width="172.50" height="172.60" fill="none" stroke="#3a3a3a" stroke-width="0.8"/>
<g clip-path="url(#cF10)" fill="none" stroke-width="1.45" stroke-linejoin="round" stroke-linecap="butt">
<polyline points="22.9,870.0 24.5,895.0 26.6,904.0 28.5,915.3 31.0,920.3 36.1,924.7 43.6,927.9 52.4,929.4 107.0,929.8 195.1,930.3" stroke="#BDB82C"/>
<polyline points="22.9,840.0 24.8,885.2 26.0,901.5 29.2,901.5 29.8,906.5 31.0,907.8 31.7,911.5 77.5,911.5 77.5,921.5 111.6,921.5 112.9,924.2 151.7,924.2 154.3,928.4 195.1,928.4" stroke="#D822D8"/>
<polyline points="22.9,870.0 24.5,895.0 26.0,907.8 28.5,915.3 33.6,917.2 107.0,917.8 195.1,917.9" stroke="#38E038"/>
<polyline points="22.9,802.4 22.9,813.7 24.1,825.0 25.4,843.8 27.3,863.8 29.2,882.7 31.0,897.7 33.6,906.5 37.3,915.3 42.3,921.6 49.9,926.6 58.7,929.1 71.2,930.4 107.0,930.6 195.1,930.8" stroke="#111111"/>
<polyline points="22.9,850.0 24.8,880.2 27.3,889.0 31.0,895.2 36.1,900.2 43.6,906.5 52.4,911.5 64.9,916.6 77.5,920.3 90.1,922.8 107.0,925.2 120.1,927.1 133.3,928.8 146.4,929.8 159.6,930.2 195.1,930.4" stroke="#2DBDBD"/>
<polyline points="22.9,759.5 22.9,802.4 24.5,880.0 26.6,905.3 29.8,915.3 34.8,920.3 41.1,924.1 52.4,927.9 64.9,929.7 100.0,930.8 195.1,931.2" stroke="#9A88C4" stroke-width="1.2"/>
<polyline points="22.9,813.7 22.9,833.8 23.5,857.6 24.8,882.7 26.0,907.8 27.9,922.8 31.0,928.5 37.3,931.0 60.0,931.3 195.1,931.4" stroke="#1616D0"/>
<polyline points="22.9,833.8 23.3,920.3 24.8,929.1 28.5,931.0 40.0,931.6 195.1,931.7" stroke="#DC2222"/>
<polyline points="22.9,759.5 22.9,802.4" stroke="#9A88C4"/>
</g>
<line x1="51.35" y1="931.80" x2="51.35" y2="930.11" stroke="#3a3a3a" stroke-width="0.6"/>
<line x1="51.35" y1="759.20" x2="51.35" y2="760.89" stroke="#3a3a3a" stroke-width="0.6"/>
<text transform="translate(51.35,941.61) scale(0.595,0.892)" font-family="Liberation Sans" font-size="8.10" text-anchor="middle" fill="#3c3c3c" font-weight="normal" stroke="#3c3c3c" stroke-width="0.18">0.5</text>
<line x1="80.10" y1="931.80" x2="80.10" y2="930.11" stroke="#3a3a3a" stroke-width="0.6"/>
<line x1="80.10" y1="759.20" x2="80.10" y2="760.89" stroke="#3a3a3a" stroke-width="0.6"/>
<text transform="translate(80.10,941.61) scale(0.595,0.892)" font-family="Liberation Sans" font-size="8.10" text-anchor="middle" fill="#3c3c3c" font-weight="normal" stroke="#3c3c3c" stroke-width="0.18">1</text>
<line x1="108.85" y1="931.80" x2="108.85" y2="930.11" stroke="#3a3a3a" stroke-width="0.6"/>
<line x1="108.85" y1="759.20" x2="108.85" y2="760.89" stroke="#3a3a3a" stroke-width="0.6"/>
<text transform="translate(108.85,941.61) scale(0.595,0.892)" font-family="Liberation Sans" font-size="8.10" text-anchor="middle" fill="#3c3c3c" font-weight="normal" stroke="#3c3c3c" stroke-width="0.18">1.5</text>
<line x1="137.60" y1="931.80" x2="137.60" y2="930.11" stroke="#3a3a3a" stroke-width="0.6"/>
<line x1="137.60" y1="759.20" x2="137.60" y2="760.89" stroke="#3a3a3a" stroke-width="0.6"/>
<text transform="translate(137.60,941.61) scale(0.595,0.892)" font-family="Liberation Sans" font-size="8.10" text-anchor="middle" fill="#3c3c3c" font-weight="normal" stroke="#3c3c3c" stroke-width="0.18">2</text>
<line x1="166.35" y1="931.80" x2="166.35" y2="930.11" stroke="#3a3a3a" stroke-width="0.6"/>
<line x1="166.35" y1="759.20" x2="166.35" y2="760.89" stroke="#3a3a3a" stroke-width="0.6"/>
<text transform="translate(166.35,941.61) scale(0.595,0.892)" font-family="Liberation Sans" font-size="8.10" text-anchor="middle" fill="#3c3c3c" font-weight="normal" stroke="#3c3c3c" stroke-width="0.18">2.5</text>
<line x1="195.10" y1="931.80" x2="195.10" y2="930.11" stroke="#3a3a3a" stroke-width="0.6"/>
<line x1="195.10" y1="759.20" x2="195.10" y2="760.89" stroke="#3a3a3a" stroke-width="0.6"/>
<text transform="translate(195.10,941.61) scale(0.595,0.892)" font-family="Liberation Sans" font-size="8.10" text-anchor="middle" fill="#3c3c3c" font-weight="normal" stroke="#3c3c3c" stroke-width="0.18">3</text>
<line x1="22.60" y1="761.60" x2="24.50" y2="761.60" stroke="#3a3a3a" stroke-width="0.6"/>
<line x1="195.10" y1="761.60" x2="193.20" y2="761.60" stroke="#3a3a3a" stroke-width="0.6"/>
<text transform="translate(20.80,764.19) scale(0.630,0.892)" font-family="Liberation Sans" font-size="8.10" text-anchor="end" fill="#3c3c3c" font-weight="normal" stroke="#3c3c3c" stroke-width="0.18">5000</text>
<line x1="22.60" y1="775.00" x2="24.50" y2="775.00" stroke="#3a3a3a" stroke-width="0.6"/>
<line x1="195.10" y1="775.00" x2="193.20" y2="775.00" stroke="#3a3a3a" stroke-width="0.6"/>
<text transform="translate(20.80,777.59) scale(0.630,0.892)" font-family="Liberation Sans" font-size="8.10" text-anchor="end" fill="#3c3c3c" font-weight="normal" stroke="#3c3c3c" stroke-width="0.18">4800</text>
<line x1="22.60" y1="788.50" x2="24.50" y2="788.50" stroke="#3a3a3a" stroke-width="0.6"/>
<line x1="195.10" y1="788.50" x2="193.20" y2="788.50" stroke="#3a3a3a" stroke-width="0.6"/>
<text transform="translate(20.80,791.09) scale(0.630,0.892)" font-family="Liberation Sans" font-size="8.10" text-anchor="end" fill="#3c3c3c" font-weight="normal" stroke="#3c3c3c" stroke-width="0.18">4600</text>
<line x1="22.60" y1="802.60" x2="24.50" y2="802.60" stroke="#3a3a3a" stroke-width="0.6"/>
<line x1="195.10" y1="802.60" x2="193.20" y2="802.60" stroke="#3a3a3a" stroke-width="0.6"/>
<text transform="translate(20.80,805.19) scale(0.630,0.892)" font-family="Liberation Sans" font-size="8.10" text-anchor="end" fill="#3c3c3c" font-weight="normal" stroke="#3c3c3c" stroke-width="0.18">4400</text>
<line x1="22.60" y1="817.40" x2="24.50" y2="817.40" stroke="#3a3a3a" stroke-width="0.6"/>
<line x1="195.10" y1="817.40" x2="193.20" y2="817.40" stroke="#3a3a3a" stroke-width="0.6"/>
<text transform="translate(20.80,819.99) scale(0.630,0.892)" font-family="Liberation Sans" font-size="8.10" text-anchor="end" fill="#3c3c3c" font-weight="normal" stroke="#3c3c3c" stroke-width="0.18">4200</text>
<line x1="22.60" y1="832.80" x2="24.50" y2="832.80" stroke="#3a3a3a" stroke-width="0.6"/>
<line x1="195.10" y1="832.80" x2="193.20" y2="832.80" stroke="#3a3a3a" stroke-width="0.6"/>
<text transform="translate(20.80,835.39) scale(0.630,0.892)" font-family="Liberation Sans" font-size="8.10" text-anchor="end" fill="#3c3c3c" font-weight="normal" stroke="#3c3c3c" stroke-width="0.18">4000</text>
<line x1="22.60" y1="849.40" x2="24.50" y2="849.40" stroke="#3a3a3a" stroke-width="0.6"/>
<line x1="195.10" y1="849.40" x2="193.20" y2="849.40" stroke="#3a3a3a" stroke-width="0.6"/>
<text transform="translate(20.80,851.99) scale(0.630,0.892)" font-family="Liberation Sans" font-size="8.10" text-anchor="end" fill="#3c3c3c" font-weight="normal" stroke="#3c3c3c" stroke-width="0.18">3800</text>
<line x1="22.60" y1="866.80" x2="24.50" y2="866.80" stroke="#3a3a3a" stroke-width="0.6"/>
<line x1="195.10" y1="866.80" x2="193.20" y2="866.80" stroke="#3a3a3a" stroke-width="0.6"/>
<text transform="translate(20.80,869.39) scale(0.630,0.892)" font-family="Liberation Sans" font-size="8.10" text-anchor="end" fill="#3c3c3c" font-weight="normal" stroke="#3c3c3c" stroke-width="0.18">3600</text>
<line x1="22.60" y1="885.60" x2="24.50" y2="885.60" stroke="#3a3a3a" stroke-width="0.6"/>
<line x1="195.10" y1="885.60" x2="193.20" y2="885.60" stroke="#3a3a3a" stroke-width="0.6"/>
<text transform="translate(20.80,888.19) scale(0.630,0.892)" font-family="Liberation Sans" font-size="8.10" text-anchor="end" fill="#3c3c3c" font-weight="normal" stroke="#3c3c3c" stroke-width="0.18">3400</text>
<line x1="22.60" y1="904.80" x2="24.50" y2="904.80" stroke="#3a3a3a" stroke-width="0.6"/>
<line x1="195.10" y1="904.80" x2="193.20" y2="904.80" stroke="#3a3a3a" stroke-width="0.6"/>
<text transform="translate(20.80,907.39) scale(0.630,0.892)" font-family="Liberation Sans" font-size="8.10" text-anchor="end" fill="#3c3c3c" font-weight="normal" stroke="#3c3c3c" stroke-width="0.18">3200</text>
<line x1="22.60" y1="925.00" x2="24.50" y2="925.00" stroke="#3a3a3a" stroke-width="0.6"/>
<line x1="195.10" y1="925.00" x2="193.20" y2="925.00" stroke="#3a3a3a" stroke-width="0.6"/>
<text transform="translate(20.80,927.59) scale(0.630,0.892)" font-family="Liberation Sans" font-size="8.10" text-anchor="end" fill="#3c3c3c" font-weight="normal" stroke="#3c3c3c" stroke-width="0.18">3000</text>
<text transform="translate(108.85,754.74) scale(0.640,0.892)" font-family="Liberation Sans" font-size="10.00" text-anchor="middle" fill="#1a1a1a" font-weight="bold">F10</text>
<text transform="translate(6.70,844.90) scale(0.76,0.892) rotate(-90)" font-family="Liberation Sans" font-size="8.45" text-anchor="middle" fill="#3c3c3c" stroke="#3c3c3c" stroke-width="0.15">Best Score obtained so far</text>
<text transform="translate(108.85,952.32) scale(0.660,0.892)" font-family="Liberation Sans" font-size="8.40" text-anchor="middle" fill="#3c3c3c" font-weight="normal" stroke="#3c3c3c" stroke-width="0.18">FE</text>
<text transform="translate(192.80,952.85) scale(0.620,0.892)" font-family="Liberation Sans" font-size="7.60" text-anchor="end" fill="#3c3c3c" font-weight="normal" stroke="#3c3c3c" stroke-width="0.18">10</text>
<text transform="translate(185.90,952.85) scale(0.750,0.892)" font-family="Liberation Sans" font-size="7.20" text-anchor="end" fill="#3c3c3c" font-weight="normal" stroke="#3c3c3c" stroke-width="0.18">&#215;</text>
<text transform="translate(193.20,950.00) scale(0.550,0.892)" font-family="Liberation Sans" font-size="5.20" text-anchor="start" fill="#3c3c3c" font-weight="normal" stroke="#3c3c3c" stroke-width="0.18">4</text>
<text x="105.90" y="968.10" font-family="Liberation Serif" font-size="14.3" text-anchor="middle" fill="#111">( j )</text>
<rect x="159.80" y="766.60" width="30.60" height="67.40" fill="#fff" stroke="#4a4a4a" stroke-width="0.7"/>
<line x1="161.50" y1="771.56" x2="173.20" y2="771.56" stroke="#BDB82C" stroke-width="1.5"/>
<text transform="translate(174.40,773.52) scale(0.780,0.892)" font-family="Liberation Sans" font-size="6.20" text-anchor="start" fill="#222" font-weight="normal" stroke="#222" stroke-width="0.18">WOA</text>
<line x1="161.50" y1="779.83" x2="173.20" y2="779.83" stroke="#D822D8" stroke-width="1.5"/>
<text transform="translate(174.40,781.79) scale(0.780,0.892)" font-family="Liberation Sans" font-size="6.20" text-anchor="start" fill="#222" font-weight="normal" stroke="#222" stroke-width="0.18">SCA</text>
<line x1="161.50" y1="788.10" x2="173.20" y2="788.10" stroke="#38E038" stroke-width="1.5"/>
<text transform="translate(174.40,790.06) scale(0.780,0.892)" font-family="Liberation Sans" font-size="6.20" text-anchor="start" fill="#222" font-weight="normal" stroke="#222" stroke-width="0.18">TSA</text>
<line x1="161.50" y1="796.37" x2="173.20" y2="796.37" stroke="#111111" stroke-width="1.5"/>
<text transform="translate(174.40,798.33) scale(0.780,0.892)" font-family="Liberation Sans" font-size="6.20" text-anchor="start" fill="#222" font-weight="normal" stroke="#222" stroke-width="0.18">SMA</text>
<line x1="161.50" y1="804.64" x2="173.20" y2="804.64" stroke="#2DBDBD" stroke-width="1.5"/>
<text transform="translate(174.40,806.60) scale(0.780,0.892)" font-family="Liberation Sans" font-size="6.20" text-anchor="start" fill="#222" font-weight="normal" stroke="#222" stroke-width="0.18">HHO</text>
<line x1="161.50" y1="812.91" x2="173.20" y2="812.91" stroke="#9A88C4" stroke-width="1.5"/>
<text transform="translate(174.40,814.87) scale(0.780,0.892)" font-family="Liberation Sans" font-size="6.20" text-anchor="start" fill="#222" font-weight="normal" stroke="#222" stroke-width="0.18">RUN</text>
<line x1="161.50" y1="821.18" x2="173.20" y2="821.18" stroke="#1616D0" stroke-width="1.5"/>
<text transform="translate(174.40,823.14) scale(0.780,0.892)" font-family="Liberation Sans" font-size="6.20" text-anchor="start" fill="#222" font-weight="normal" stroke="#222" stroke-width="0.18">AHA</text>
<line x1="161.50" y1="829.45" x2="173.20" y2="829.45" stroke="#DC2222" stroke-width="1.5"/>
<text transform="translate(174.40,831.41) scale(0.780,0.892)" font-family="Liberation Sans" font-size="6.20" text-anchor="start" fill="#222" font-weight="normal" stroke="#222" stroke-width="0.18">mAHA</text>
</svg>
</body></html>
